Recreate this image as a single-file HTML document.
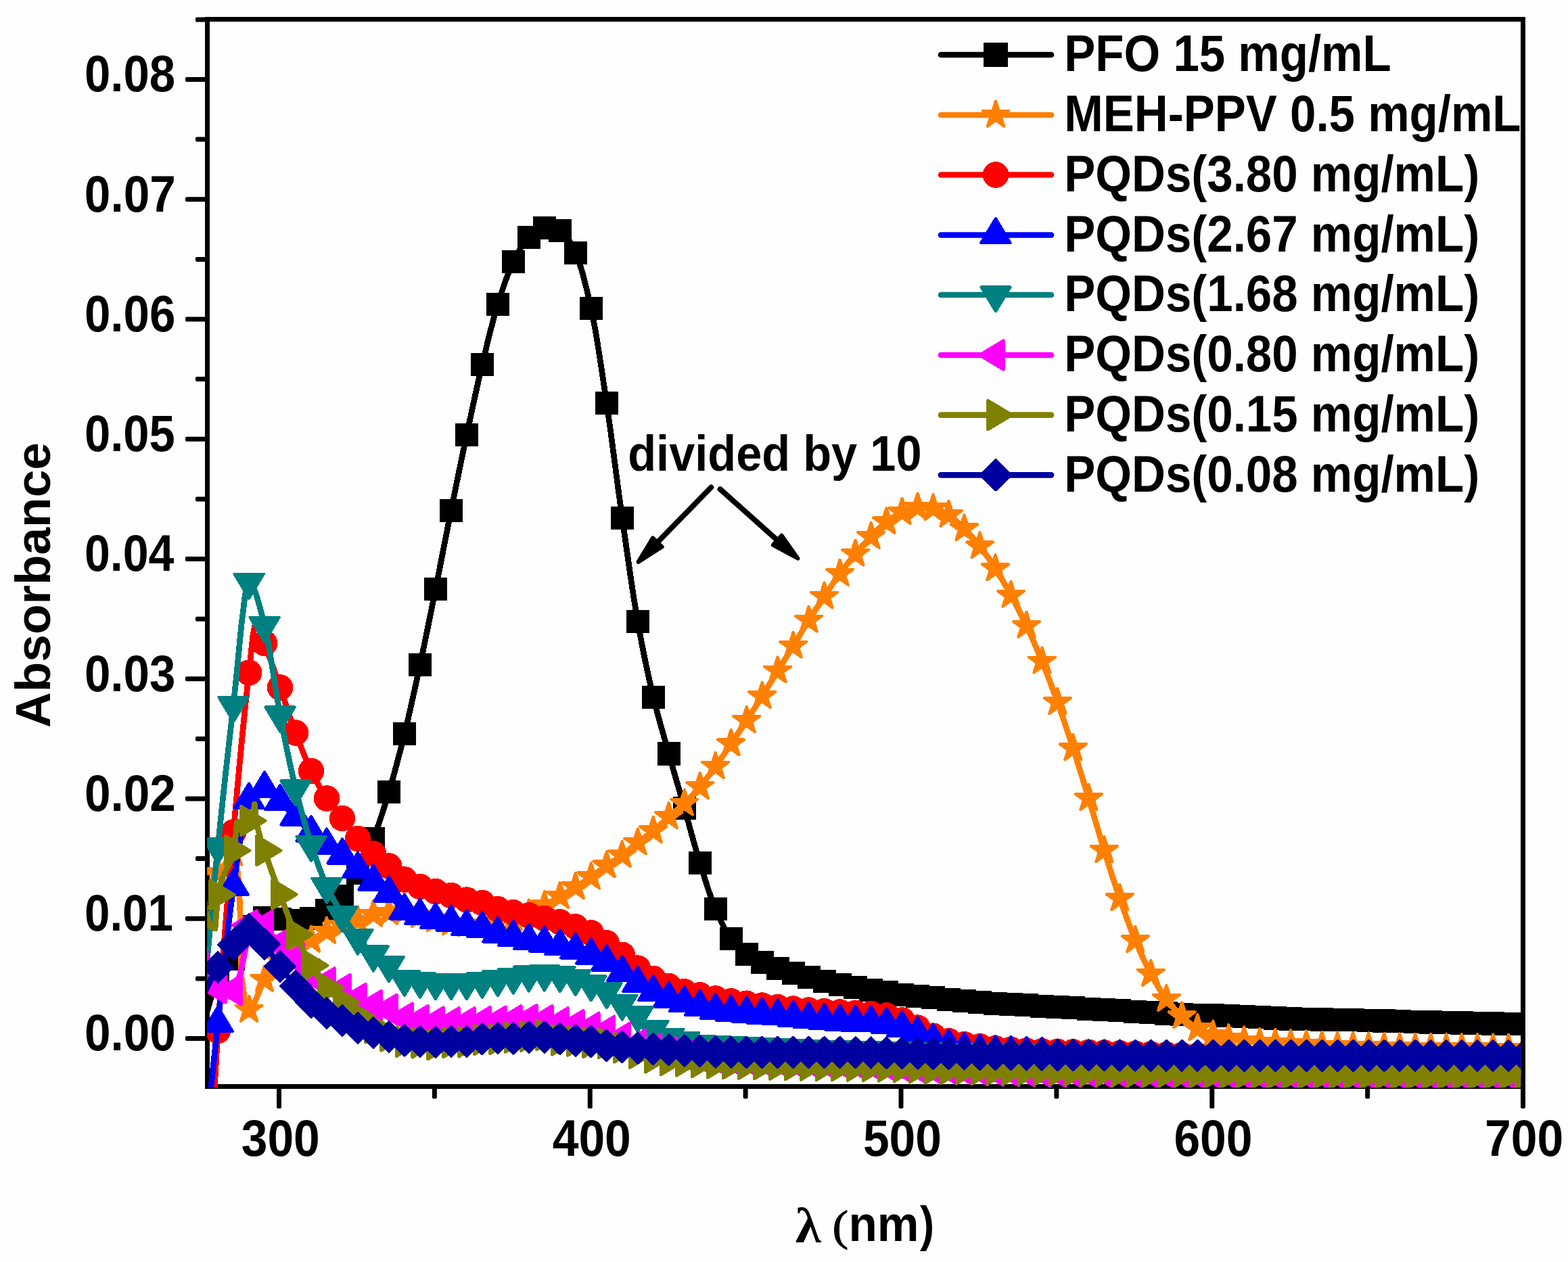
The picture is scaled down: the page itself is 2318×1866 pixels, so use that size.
<!DOCTYPE html>
<html lang="en"><head><meta charset="utf-8"><title>Absorbance spectra</title>
<style>html,body{margin:0;padding:0;background:#fff;}svg{display:block;}text{font-family:"Liberation Sans",Arial,Helvetica,sans-serif;font-weight:bold;fill:#000;}.sym{font-family:"Liberation Serif","Times New Roman",serif;font-weight:bold;}.symr{font-family:"Liberation Serif","Times New Roman",serif;font-weight:normal;}</style></head><body>
<svg width="2318" height="1866" viewBox="0 0 2318 1866">
<rect x="0" y="0" width="2318" height="1866" fill="#fefefe"/>
<defs><clipPath id="plot"><rect x="306.2" y="20" width="1941.9999999999998" height="1588.3"/></clipPath></defs>
<g id="axes" fill="#000" shape-rendering="crispEdges">
<rect x="303" y="24.9" width="7" height="1585.1"/>
<rect x="303" y="1603" width="1952" height="7"/>
<rect x="303" y="24.9" width="1952" height="7"/>
<rect x="2248" y="24.9" width="7" height="1585.1"/>
</g>
<g id="ticks" fill="#000">
<rect x="274" y="1532" width="32.5" height="7" rx="2" ry="2"/>
<rect x="274" y="1354.75" width="32.5" height="7" rx="2" ry="2"/>
<rect x="274" y="1177.5" width="32.5" height="7" rx="2" ry="2"/>
<rect x="274" y="1000.25" width="32.5" height="7" rx="2" ry="2"/>
<rect x="274" y="823" width="32.5" height="7" rx="2" ry="2"/>
<rect x="274" y="645.75" width="32.5" height="7" rx="2" ry="2"/>
<rect x="274" y="468.5" width="32.5" height="7" rx="2" ry="2"/>
<rect x="274" y="291.25" width="32.5" height="7" rx="2" ry="2"/>
<rect x="274" y="114" width="32.5" height="7" rx="2" ry="2"/>
<rect x="289" y="1443.38" width="17.5" height="7" rx="2" ry="2"/>
<rect x="289" y="1266.12" width="17.5" height="7" rx="2" ry="2"/>
<rect x="289" y="1088.88" width="17.5" height="7" rx="2" ry="2"/>
<rect x="289" y="911.63" width="17.5" height="7" rx="2" ry="2"/>
<rect x="289" y="734.38" width="17.5" height="7" rx="2" ry="2"/>
<rect x="289" y="557.12" width="17.5" height="7" rx="2" ry="2"/>
<rect x="289" y="379.88" width="17.5" height="7" rx="2" ry="2"/>
<rect x="289" y="202.62" width="17.5" height="7" rx="2" ry="2"/>
<rect x="289" y="25.38" width="17.5" height="7" rx="2" ry="2"/>
<rect x="409" y="1606.5" width="7" height="32.5" rx="2" ry="2"/>
<rect x="868.75" y="1606.5" width="7" height="32.5" rx="2" ry="2"/>
<rect x="1328.5" y="1606.5" width="7" height="32.5" rx="2" ry="2"/>
<rect x="1788.25" y="1606.5" width="7" height="32.5" rx="2" ry="2"/>
<rect x="2248" y="1606.5" width="7" height="32.5" rx="2" ry="2"/>
<rect x="638.88" y="1606.5" width="7" height="18" rx="2" ry="2"/>
<rect x="1098.62" y="1606.5" width="7" height="18" rx="2" ry="2"/>
<rect x="1558.38" y="1606.5" width="7" height="18" rx="2" ry="2"/>
<rect x="2018.12" y="1606.5" width="7" height="18" rx="2" ry="2"/>
</g>
<g id="series" clip-path="url(#plot)" shape-rendering="crispEdges">
<g id="s-black">
<polyline points="299.11,1522 304.86,1499.89 310.61,1480.04 316.35,1463.17 322.1,1450 327.85,1440.57 333.59,1433.26 339.34,1426.32 345.09,1418 350.83,1406.06 356.58,1391.76 362.33,1378.58 368.08,1370 373.82,1365.09 379.57,1360.94 385.32,1358.07 391.06,1357 396.81,1357.22 402.56,1357.75 408.3,1358.41 414.05,1359 419.8,1359.59 425.54,1360.25 431.29,1360.78 437.04,1361 442.78,1360.76 448.53,1360.1 454.28,1359.14 460.03,1358 465.77,1356.17 471.52,1353.31 477.27,1349.8 483.01,1346 488.76,1341.79 494.51,1336.84 500.25,1331.22 506,1325 511.75,1317.95 517.49,1309.85 523.24,1300.83 528.99,1291 534.73,1280.04 540.48,1267.73 546.23,1254.3 551.98,1240 557.72,1224.56 563.47,1207.74 569.22,1189.8 574.96,1171 580.71,1151.17 586.46,1130.09 592.2,1107.97 597.95,1085 603.7,1060.97 609.44,1035.74 615.19,1009.67 620.94,983.1 626.68,955.9 632.43,927.93 638.18,899.49 643.92,870.9 649.67,842 655.42,812.7 661.17,783.43 666.91,754.6 672.66,726.22 678.41,698.08 684.15,670.33 689.9,643.1 695.65,616.19 701.39,589.59 707.14,563.71 712.89,539 718.63,515.05 724.38,491.72 730.13,469.77 735.88,450 741.62,431.96 747.37,415.07 753.12,399.92 758.86,387.1 764.61,375.95 770.36,365.82 776.1,357.31 781.85,351 787.6,346.01 793.34,341.54 799.09,338.33 804.84,337.1 810.58,337.37 816.33,338.12 822.08,339.29 827.83,340.8 833.57,344.71 839.32,352.33 845.07,362.48 850.81,374 856.56,388.58 862.31,407.89 868.05,430.7 873.8,455.8 879.55,485.06 885.29,519.68 891.04,557.43 896.79,596.1 902.53,636.62 908.28,679.89 914.03,723.64 919.78,765.6 925.52,806.23 931.27,846.46 937.02,884.69 942.76,919.3 948.51,950.36 954.26,979.14 960,1005.82 965.75,1030.6 971.5,1053.29 977.24,1074.19 982.99,1094.25 988.74,1114.4 994.48,1134.72 1000.23,1154.76 1005.98,1174.72 1011.73,1194.8 1017.47,1215.38 1023.22,1236.25 1028.97,1256.69 1034.71,1276 1040.46,1294.53 1046.21,1312.57 1051.95,1329.33 1057.7,1344 1063.45,1356.96 1069.19,1368.88 1074.94,1379.36 1080.69,1388 1086.43,1395.17 1092.18,1401.45 1097.93,1406.81 1103.68,1411.2 1109.42,1414.73 1115.17,1417.69 1120.92,1420.34 1126.66,1422.9 1132.41,1425.46 1138.16,1427.91 1143.9,1430.2 1149.65,1432.3 1155.4,1434.2 1161.14,1435.94 1166.89,1437.59 1172.64,1439.2 1178.38,1440.77 1184.13,1442.27 1189.88,1443.74 1195.62,1445.2 1201.37,1446.65 1207.12,1448.09 1212.87,1449.5 1218.61,1450.9 1224.36,1452.32 1230.11,1453.74 1235.85,1455.1 1241.6,1456.3 1247.35,1457.32 1253.09,1458.24 1258.84,1459.11 1264.59,1460 1270.33,1460.92 1276.08,1461.84 1281.83,1462.77 1287.58,1463.7 1293.32,1464.66 1299.07,1465.63 1304.82,1466.59 1310.56,1467.5 1316.31,1468.36 1322.06,1469.18 1327.8,1469.97 1333.55,1470.7 1339.3,1471.39 1345.04,1472.05 1350.79,1472.66 1356.54,1473.2 1362.28,1473.65 1368.03,1474.03 1373.78,1474.42 1379.53,1474.9 1385.27,1475.61 1391.02,1476.5 1396.77,1477.39 1402.51,1478.1 1408.26,1478.59 1414.01,1479 1419.75,1479.38 1425.5,1479.8 1431.25,1480.28 1436.99,1480.79 1442.74,1481.31 1448.49,1481.8 1454.23,1482.28 1459.98,1482.76 1465.73,1483.21 1471.47,1483.6 1477.22,1483.93 1482.97,1484.21 1488.72,1484.49 1494.46,1484.8 1500.21,1485.15 1505.96,1485.54 1511.7,1485.93 1517.45,1486.3 1523.2,1486.66 1528.94,1487.01 1534.69,1487.36 1540.44,1487.7 1546.18,1488.04 1551.93,1488.38 1557.68,1488.71 1563.43,1489.05 1569.17,1489.38 1574.92,1489.71 1580.67,1490.04 1586.41,1490.36 1592.16,1490.69 1597.91,1491.02 1603.65,1491.35 1609.4,1491.67 1615.15,1492 1620.89,1492.33 1626.64,1492.67 1632.39,1493 1638.13,1493.34 1643.88,1493.68 1649.63,1494.03 1655.38,1494.38 1661.12,1494.74 1666.87,1495.1 1672.62,1495.46 1678.36,1495.81 1684.11,1496.17 1689.86,1496.52 1695.6,1496.87 1701.35,1497.22 1707.1,1497.56 1712.84,1497.89 1718.59,1498.22 1724.34,1498.54 1730.08,1498.85 1735.83,1499.14 1741.58,1499.43 1747.33,1499.7 1753.07,1499.96 1758.82,1500.21 1764.57,1500.44 1770.31,1500.67 1776.06,1500.89 1781.81,1501.1 1787.55,1501.31 1793.3,1501.52 1799.05,1501.72 1804.79,1501.92 1810.54,1502.11 1816.29,1502.31 1822.03,1502.52 1827.78,1502.72 1833.53,1502.93 1839.28,1503.15 1845.02,1503.37 1850.77,1503.6 1856.52,1503.85 1862.26,1504.1 1868.01,1504.38 1873.76,1504.71 1879.5,1505.05 1885.25,1505.4 1891,1505.73 1896.74,1506.04 1902.49,1506.3 1908.24,1506.5 1913.98,1506.65 1919.73,1506.79 1925.48,1506.91 1931.22,1507.02 1936.97,1507.12 1942.72,1507.22 1948.47,1507.31 1954.21,1507.4 1959.96,1507.49 1965.71,1507.59 1971.45,1507.69 1977.2,1507.8 1982.95,1507.92 1988.69,1508.05 1994.44,1508.18 2000.19,1508.31 2005.93,1508.45 2011.68,1508.59 2017.43,1508.73 2023.18,1508.88 2028.92,1509.03 2034.67,1509.18 2040.42,1509.33 2046.16,1509.49 2051.91,1509.65 2057.66,1509.81 2063.4,1509.97 2069.15,1510.13 2074.9,1510.29 2080.64,1510.45 2086.39,1510.61 2092.14,1510.77 2097.88,1510.93 2103.63,1511.09 2109.38,1511.25 2115.12,1511.41 2120.87,1511.56 2126.62,1511.72 2132.37,1511.87 2138.11,1512.01 2143.86,1512.16 2149.61,1512.3 2155.35,1512.44 2161.1,1512.57 2166.85,1512.71 2172.59,1512.83 2178.34,1512.95 2184.09,1513.07 2189.83,1513.18 2195.58,1513.29 2201.33,1513.39 2207.08,1513.49 2212.82,1513.57 2218.57,1513.66 2224.32,1513.73 2230.06,1513.8 2235.81,1513.86 2241.56,1513.91 2247.3,1513.96 2253.05,1514" fill="none" stroke="#000000" stroke-width="8.7" stroke-linejoin="round"/>
<path d="M305 1432.9h34.2v34.2h-34.2zM327.99 1400.9h34.2v34.2h-34.2zM350.98 1352.9h34.2v34.2h-34.2zM373.96 1339.9h34.2v34.2h-34.2zM396.95 1341.9h34.2v34.2h-34.2zM419.94 1343.9h34.2v34.2h-34.2zM442.93 1340.9h34.2v34.2h-34.2zM465.91 1328.9h34.2v34.2h-34.2zM488.9 1307.9h34.2v34.2h-34.2zM511.89 1273.9h34.2v34.2h-34.2zM534.88 1222.9h34.2v34.2h-34.2zM557.86 1153.9h34.2v34.2h-34.2zM580.85 1067.9h34.2v34.2h-34.2zM603.84 966h34.2v34.2h-34.2zM626.82 853.8h34.2v34.2h-34.2zM649.81 737.5h34.2v34.2h-34.2zM672.8 626h34.2v34.2h-34.2zM695.79 521.9h34.2v34.2h-34.2zM718.77 432.9h34.2v34.2h-34.2zM741.76 370h34.2v34.2h-34.2zM764.75 333.9h34.2v34.2h-34.2zM787.74 320h34.2v34.2h-34.2zM810.73 323.7h34.2v34.2h-34.2zM833.71 356.9h34.2v34.2h-34.2zM856.7 438.7h34.2v34.2h-34.2zM879.69 579h34.2v34.2h-34.2zM902.68 748.5h34.2v34.2h-34.2zM925.66 902.2h34.2v34.2h-34.2zM948.65 1013.5h34.2v34.2h-34.2zM971.64 1097.3h34.2v34.2h-34.2zM994.62 1177.7h34.2v34.2h-34.2zM1017.61 1258.9h34.2v34.2h-34.2zM1040.6 1326.9h34.2v34.2h-34.2zM1063.59 1370.9h34.2v34.2h-34.2zM1086.58 1394.1h34.2v34.2h-34.2zM1109.56 1405.8h34.2v34.2h-34.2zM1132.55 1415.2h34.2v34.2h-34.2zM1155.54 1422.1h34.2v34.2h-34.2zM1178.53 1428.1h34.2v34.2h-34.2zM1201.51 1433.8h34.2v34.2h-34.2zM1224.5 1439.2h34.2v34.2h-34.2zM1247.49 1442.9h34.2v34.2h-34.2zM1270.48 1446.6h34.2v34.2h-34.2zM1293.46 1450.4h34.2v34.2h-34.2zM1316.45 1453.6h34.2v34.2h-34.2zM1339.44 1456.1h34.2v34.2h-34.2zM1362.43 1457.8h34.2v34.2h-34.2zM1385.41 1461h34.2v34.2h-34.2zM1408.4 1462.7h34.2v34.2h-34.2zM1431.39 1464.7h34.2v34.2h-34.2zM1454.38 1466.5h34.2v34.2h-34.2zM1477.36 1467.7h34.2v34.2h-34.2zM1500.35 1469.2h34.2v34.2h-34.2zM1523.34 1470.6h34.2v34.2h-34.2zM1546.33 1471.95h34.2v34.2h-34.2zM1569.31 1473.26h34.2v34.2h-34.2zM1592.3 1474.57h34.2v34.2h-34.2zM1615.29 1475.9h34.2v34.2h-34.2zM1638.28 1477.28h34.2v34.2h-34.2zM1661.26 1478.71h34.2v34.2h-34.2zM1684.25 1480.12h34.2v34.2h-34.2zM1707.24 1481.44h34.2v34.2h-34.2zM1730.23 1482.6h34.2v34.2h-34.2zM1753.21 1483.57h34.2v34.2h-34.2zM1776.2 1484.42h34.2v34.2h-34.2zM1799.19 1485.21h34.2v34.2h-34.2zM1822.18 1486.05h34.2v34.2h-34.2zM1845.16 1487h34.2v34.2h-34.2zM1868.15 1488.3h34.2v34.2h-34.2zM1891.14 1489.4h34.2v34.2h-34.2zM1914.12 1489.92h34.2v34.2h-34.2zM1937.11 1490.3h34.2v34.2h-34.2zM1960.1 1490.7h34.2v34.2h-34.2zM1983.09 1491.21h34.2v34.2h-34.2zM2006.08 1491.78h34.2v34.2h-34.2zM2029.06 1492.39h34.2v34.2h-34.2zM2052.05 1493.03h34.2v34.2h-34.2zM2075.04 1493.67h34.2v34.2h-34.2zM2098.03 1494.31h34.2v34.2h-34.2zM2121.01 1494.91h34.2v34.2h-34.2zM2144 1495.47h34.2v34.2h-34.2zM2166.99 1495.97h34.2v34.2h-34.2zM2189.98 1496.39h34.2v34.2h-34.2zM2212.96 1496.7h34.2v34.2h-34.2zM2235.95 1496.9h34.2v34.2h-34.2z" fill="#000000"/>
</g>
<g id="s-orange">
<polyline points="299.11,1290 304.86,1290 310.61,1290 316.35,1290 322.1,1290 327.85,1285.62 333.59,1276 339.34,1266.38 345.09,1262 350.83,1286.15 351.98,1295 354.74,1340 356.58,1441 362.33,1482.1 368.08,1493 373.82,1487.68 379.57,1475.09 385.32,1460.34 391.06,1448.5 396.81,1440.16 402.56,1432.57 408.3,1425.82 414.05,1420 419.8,1415.04 425.54,1410.68 431.29,1406.73 437.04,1403 442.78,1399.51 448.53,1396.28 454.28,1393.17 460.03,1390 465.77,1386.64 471.52,1383.2 477.27,1379.92 483.01,1377 488.76,1374.47 494.51,1372.15 500.25,1370.02 506,1368 511.75,1366.17 517.49,1364.5 523.24,1362.83 528.99,1361 534.73,1358.7 540.48,1356.08 546.23,1353.67 551.98,1352 557.72,1350.99 563.47,1350.19 569.22,1349.54 574.96,1349 580.71,1348.48 586.46,1348 592.2,1347.64 597.95,1347.5 603.7,1348.16 609.44,1349.78 615.19,1351.78 620.94,1353.6 626.68,1355.17 632.43,1356.78 638.18,1358.34 643.92,1359.8 649.67,1361.23 655.42,1362.63 661.17,1363.88 666.91,1364.8 672.66,1365.51 678.41,1366.16 684.15,1366.62 689.9,1366.8 695.65,1366.73 701.39,1366.56 707.14,1366.3 712.89,1366 718.63,1365.53 724.38,1364.81 730.13,1363.94 735.88,1363 741.62,1361.96 747.37,1360.76 753.12,1359.43 758.86,1358 764.61,1356.5 770.36,1354.88 776.1,1353.07 781.85,1351 787.6,1348.45 793.34,1345.4 799.09,1342.1 804.84,1338.8 810.58,1335.51 816.33,1332.1 822.08,1328.64 827.83,1325.2 833.57,1321.81 839.32,1318.42 845.07,1315 850.81,1311.5 856.56,1307.93 862.31,1304.29 868.05,1300.56 873.8,1296.7 879.55,1292.59 885.29,1288.28 891.04,1283.96 896.79,1279.8 902.53,1275.94 908.28,1272.24 914.03,1268.5 919.78,1264.5 925.52,1260.08 931.27,1255.35 937.02,1250.55 942.76,1245.9 948.51,1241.54 954.26,1237.33 960,1233.05 965.75,1228.5 971.5,1223.49 977.24,1218.15 982.99,1212.73 988.74,1207.5 994.48,1202.63 1000.23,1197.95 1005.98,1193.16 1011.73,1188 1017.47,1182.35 1023.22,1176.31 1028.97,1169.95 1034.71,1163.3 1040.46,1156.29 1046.21,1148.87 1051.95,1141.17 1057.7,1133.3 1063.45,1125.21 1069.19,1116.84 1074.94,1108.33 1080.69,1099.8 1086.43,1091.28 1092.18,1082.7 1097.93,1074.05 1103.68,1065.3 1109.42,1056.46 1115.17,1047.54 1120.92,1038.52 1126.66,1029.4 1132.41,1020.12 1138.16,1010.71 1143.9,1001.26 1149.65,991.9 1155.4,982.68 1161.14,973.53 1166.89,964.37 1172.64,955.1 1178.38,945.62 1184.13,935.99 1189.88,926.42 1195.62,917.1 1201.37,908.1 1207.12,899.29 1212.87,890.62 1218.61,882 1224.36,873.34 1230.11,864.7 1235.85,856.26 1241.6,848.2 1247.35,840.53 1253.09,833.15 1258.84,826.02 1264.59,819.1 1270.33,812.35 1276.08,805.77 1281.83,799.44 1287.58,793.4 1293.32,787.53 1299.07,781.83 1304.82,776.5 1310.56,771.8 1316.31,767.57 1322.06,763.65 1327.8,760.2 1333.55,757.4 1339.3,754.9 1345.04,752.54 1350.79,750.79 1356.54,750.1 1362.28,750.21 1368.03,750.53 1373.78,751 1379.53,751.6 1385.27,752.86 1391.02,755.13 1396.77,758.06 1402.51,761.3 1408.26,765.26 1414.01,770.28 1419.75,775.91 1425.5,781.7 1431.25,787.63 1436.99,793.97 1442.74,800.7 1448.49,807.8 1454.23,815.35 1459.98,823.4 1465.73,831.88 1471.47,840.7 1477.22,849.95 1482.97,859.68 1488.72,869.79 1494.46,880.2 1500.21,890.87 1505.96,901.89 1511.7,913.31 1517.45,925.2 1523.2,937.62 1528.94,950.58 1534.69,964.02 1540.44,977.9 1546.18,992.27 1551.93,1007.18 1557.68,1022.57 1563.43,1038.4 1569.17,1054.75 1574.92,1071.65 1580.67,1088.97 1586.41,1106.6 1592.16,1124.59 1597.91,1143 1603.65,1161.68 1609.4,1180.5 1615.15,1199.65 1620.89,1219.13 1626.64,1238.52 1632.39,1257.4 1638.13,1275.82 1643.88,1293.96 1649.63,1311.63 1655.38,1328.6 1661.12,1345 1666.87,1360.94 1672.62,1376.19 1678.36,1390.5 1684.11,1404 1689.86,1416.88 1695.6,1428.96 1701.35,1440.1 1707.1,1450.45 1712.84,1460.18 1718.59,1469.14 1724.34,1477.2 1730.08,1484.44 1735.83,1491.08 1741.58,1497.16 1747.33,1502.7 1753.07,1507.93 1758.82,1512.87 1764.57,1517.25 1770.31,1520.8 1776.06,1523.62 1781.81,1526.05 1787.55,1528.14 1793.3,1530 1799.05,1531.69 1804.79,1533.22 1810.54,1534.56 1816.29,1535.7 1822.03,1536.64 1827.78,1537.46 1833.53,1538.2 1839.28,1538.9 1845.02,1539.62 1850.77,1540.32 1856.52,1540.94 1862.26,1541.4 1868.01,1541.7 1873.76,1541.93 1879.5,1542.15 1885.25,1542.4 1891,1542.73 1896.74,1543.1 1902.49,1543.47 1908.24,1543.8 1913.98,1544.06 1919.73,1544.3 1925.48,1544.53 1931.22,1544.8 1936.97,1545.17 1942.72,1545.61 1948.47,1546.02 1954.21,1546.3 1959.96,1546.46 1965.71,1546.58 1971.45,1546.69 1977.2,1546.8 1982.95,1546.92 1988.69,1547.04 1994.44,1547.17 2000.19,1547.29 2005.93,1547.42 2011.68,1547.55 2017.43,1547.67 2023.18,1547.8 2028.92,1547.92 2034.67,1548.04 2040.42,1548.16 2046.16,1548.28 2051.91,1548.39 2057.66,1548.49 2063.4,1548.6 2069.15,1548.69 2074.9,1548.78 2080.64,1548.86 2086.39,1548.93 2092.14,1549 2097.88,1549.06 2103.63,1549.12 2109.38,1549.18 2115.12,1549.24 2120.87,1549.3 2126.62,1549.36 2132.37,1549.42 2138.11,1549.48 2143.86,1549.53 2149.61,1549.58 2155.35,1549.64 2161.1,1549.68 2166.85,1549.73 2172.59,1549.77 2178.34,1549.81 2184.09,1549.85 2189.83,1549.88 2195.58,1549.91 2201.33,1549.94 2207.08,1549.96 2212.82,1549.98 2218.57,1549.99 2224.32,1550 2230.06,1550 2235.81,1550 2241.56,1550 2247.3,1550 2253.05,1550" fill="none" stroke="#FF8000" stroke-width="8.7" stroke-linejoin="round"/>
<path d="M322.1 1269.6L326.68 1283.7L341.5 1283.7L329.51 1292.41L334.09 1306.5L322.1 1297.79L310.11 1306.5L314.69 1292.41L302.7 1283.7L317.52 1283.7zM345.09 1241.6L349.67 1255.7L364.49 1255.7L352.5 1264.41L357.08 1278.5L345.09 1269.79L333.1 1278.5L337.68 1264.41L325.69 1255.7L340.51 1255.7zM368.08 1472.6L372.66 1486.7L387.48 1486.7L375.49 1495.41L380.07 1509.5L368.08 1500.79L356.08 1509.5L360.66 1495.41L348.67 1486.7L363.49 1486.7zM391.06 1428.1L395.64 1442.2L410.46 1442.2L398.47 1450.91L403.05 1465L391.06 1456.29L379.07 1465L383.65 1450.91L371.66 1442.2L386.48 1442.2zM414.05 1399.6L418.63 1413.7L433.45 1413.7L421.46 1422.41L426.04 1436.5L414.05 1427.79L402.06 1436.5L406.64 1422.41L394.65 1413.7L409.47 1413.7zM437.04 1382.6L441.62 1396.7L456.44 1396.7L444.45 1405.41L449.03 1419.5L437.04 1410.79L425.05 1419.5L429.63 1405.41L417.64 1396.7L432.46 1396.7zM460.03 1369.6L464.61 1383.7L479.43 1383.7L467.44 1392.41L472.02 1406.5L460.03 1397.79L448.03 1406.5L452.61 1392.41L440.62 1383.7L455.44 1383.7zM483.01 1356.6L487.59 1370.7L502.41 1370.7L490.42 1379.41L495 1393.5L483.01 1384.79L471.02 1393.5L475.6 1379.41L463.61 1370.7L478.43 1370.7zM506 1347.6L510.58 1361.7L525.4 1361.7L513.41 1370.41L517.99 1384.5L506 1375.79L494.01 1384.5L498.59 1370.41L486.6 1361.7L501.42 1361.7zM528.99 1340.6L533.57 1354.7L548.39 1354.7L536.4 1363.41L540.98 1377.5L528.99 1368.79L517 1377.5L521.58 1363.41L509.59 1354.7L524.41 1354.7zM551.98 1331.6L556.56 1345.7L571.38 1345.7L559.39 1354.41L563.97 1368.5L551.98 1359.79L539.98 1368.5L544.56 1354.41L532.57 1345.7L547.39 1345.7zM574.96 1328.6L579.54 1342.7L594.36 1342.7L582.37 1351.41L586.95 1365.5L574.96 1356.79L562.97 1365.5L567.55 1351.41L555.56 1342.7L570.38 1342.7zM597.95 1327.1L602.53 1341.2L617.35 1341.2L605.36 1349.91L609.94 1364L597.95 1355.29L585.96 1364L590.54 1349.91L578.55 1341.2L593.37 1341.2zM620.94 1333.2L625.52 1347.3L640.34 1347.3L628.35 1356.01L632.93 1370.1L620.94 1361.39L608.95 1370.1L613.53 1356.01L601.54 1347.3L616.36 1347.3zM643.92 1339.4L648.51 1353.5L663.33 1353.5L651.34 1362.21L655.92 1376.3L643.92 1367.59L631.93 1376.3L636.51 1362.21L624.52 1353.5L639.34 1353.5zM666.91 1344.4L671.49 1358.5L686.31 1358.5L674.32 1367.21L678.9 1381.3L666.91 1372.59L654.92 1381.3L659.5 1367.21L647.51 1358.5L662.33 1358.5zM689.9 1346.4L694.48 1360.5L709.3 1360.5L697.31 1369.21L701.89 1383.3L689.9 1374.59L677.91 1383.3L682.49 1369.21L670.5 1360.5L685.32 1360.5zM712.89 1345.6L717.47 1359.7L732.29 1359.7L720.3 1368.41L724.88 1382.5L712.89 1373.79L700.9 1382.5L705.48 1368.41L693.49 1359.7L708.31 1359.7zM735.88 1342.6L740.46 1356.7L755.28 1356.7L743.29 1365.41L747.87 1379.5L735.88 1370.79L723.88 1379.5L728.46 1365.41L716.47 1356.7L731.29 1356.7zM758.86 1337.6L763.44 1351.7L778.26 1351.7L766.27 1360.41L770.85 1374.5L758.86 1365.79L746.87 1374.5L751.45 1360.41L739.46 1351.7L754.28 1351.7zM781.85 1330.6L786.43 1344.7L801.25 1344.7L789.26 1353.41L793.84 1367.5L781.85 1358.79L769.86 1367.5L774.44 1353.41L762.45 1344.7L777.27 1344.7zM804.84 1318.4L809.42 1332.5L824.24 1332.5L812.25 1341.21L816.83 1355.3L804.84 1346.59L792.85 1355.3L797.43 1341.21L785.44 1332.5L800.26 1332.5zM827.83 1304.8L832.41 1318.9L847.23 1318.9L835.24 1327.61L839.82 1341.7L827.83 1332.99L815.83 1341.7L820.41 1327.61L808.42 1318.9L823.24 1318.9zM850.81 1291.1L855.39 1305.2L870.21 1305.2L858.22 1313.91L862.8 1328L850.81 1319.29L838.82 1328L843.4 1313.91L831.41 1305.2L846.23 1305.2zM873.8 1276.3L878.38 1290.4L893.2 1290.4L881.21 1299.11L885.79 1313.2L873.8 1304.49L861.81 1313.2L866.39 1299.11L854.4 1290.4L869.22 1290.4zM896.79 1259.4L901.37 1273.5L916.19 1273.5L904.2 1282.21L908.78 1296.3L896.79 1287.59L884.8 1296.3L889.38 1282.21L877.39 1273.5L892.21 1273.5zM919.78 1244.1L924.36 1258.2L939.18 1258.2L927.19 1266.91L931.77 1281L919.78 1272.29L907.78 1281L912.36 1266.91L900.37 1258.2L915.19 1258.2zM942.76 1225.5L947.34 1239.6L962.16 1239.6L950.17 1248.31L954.75 1262.4L942.76 1253.69L930.77 1262.4L935.35 1248.31L923.36 1239.6L938.18 1239.6zM965.75 1208.1L970.33 1222.2L985.15 1222.2L973.16 1230.91L977.74 1245L965.75 1236.29L953.76 1245L958.34 1230.91L946.35 1222.2L961.17 1222.2zM988.74 1187.1L993.32 1201.2L1008.14 1201.2L996.15 1209.91L1000.73 1224L988.74 1215.29L976.75 1224L981.33 1209.91L969.34 1201.2L984.16 1201.2zM1011.73 1167.6L1016.31 1181.7L1031.13 1181.7L1019.14 1190.41L1023.72 1204.5L1011.73 1195.79L999.73 1204.5L1004.31 1190.41L992.32 1181.7L1007.14 1181.7zM1034.71 1142.9L1039.29 1157L1054.11 1157L1042.12 1165.71L1046.7 1179.8L1034.71 1171.09L1022.72 1179.8L1027.3 1165.71L1015.31 1157L1030.13 1157zM1057.7 1112.9L1062.28 1127L1077.1 1127L1065.11 1135.71L1069.69 1149.8L1057.7 1141.09L1045.71 1149.8L1050.29 1135.71L1038.3 1127L1053.12 1127zM1080.69 1079.4L1085.27 1093.5L1100.09 1093.5L1088.1 1102.21L1092.68 1116.3L1080.69 1107.59L1068.7 1116.3L1073.28 1102.21L1061.29 1093.5L1076.11 1093.5zM1103.68 1044.9L1108.26 1059L1123.08 1059L1111.09 1067.71L1115.67 1081.8L1103.68 1073.09L1091.68 1081.8L1096.26 1067.71L1084.27 1059L1099.09 1059zM1126.66 1009L1131.24 1023.1L1146.06 1023.1L1134.07 1031.81L1138.65 1045.9L1126.66 1037.19L1114.67 1045.9L1119.25 1031.81L1107.26 1023.1L1122.08 1023.1zM1149.65 971.5L1154.23 985.6L1169.05 985.6L1157.06 994.31L1161.64 1008.4L1149.65 999.69L1137.66 1008.4L1142.24 994.31L1130.25 985.6L1145.07 985.6zM1172.64 934.7L1177.22 948.8L1192.04 948.8L1180.05 957.51L1184.63 971.6L1172.64 962.89L1160.65 971.6L1165.23 957.51L1153.24 948.8L1168.06 948.8zM1195.62 896.7L1200.21 910.8L1215.03 910.8L1203.04 919.51L1207.62 933.6L1195.62 924.89L1183.63 933.6L1188.21 919.51L1176.22 910.8L1191.04 910.8zM1218.61 861.6L1223.19 875.7L1238.01 875.7L1226.02 884.41L1230.6 898.5L1218.61 889.79L1206.62 898.5L1211.2 884.41L1199.21 875.7L1214.03 875.7zM1241.6 827.8L1246.18 841.9L1261 841.9L1249.01 850.61L1253.59 864.7L1241.6 855.99L1229.61 864.7L1234.19 850.61L1222.2 841.9L1237.02 841.9zM1264.59 798.7L1269.17 812.8L1283.99 812.8L1272 821.51L1276.58 835.6L1264.59 826.89L1252.6 835.6L1257.18 821.51L1245.19 812.8L1260.01 812.8zM1287.58 773L1292.16 787.1L1306.98 787.1L1294.99 795.81L1299.57 809.9L1287.58 801.19L1275.58 809.9L1280.16 795.81L1268.17 787.1L1282.99 787.1zM1310.56 751.4L1315.14 765.5L1329.96 765.5L1317.97 774.21L1322.55 788.3L1310.56 779.59L1298.57 788.3L1303.15 774.21L1291.16 765.5L1305.98 765.5zM1333.55 737L1338.13 751.1L1352.95 751.1L1340.96 759.81L1345.54 773.9L1333.55 765.19L1321.56 773.9L1326.14 759.81L1314.15 751.1L1328.97 751.1zM1356.54 729.7L1361.12 743.8L1375.94 743.8L1363.95 752.51L1368.53 766.6L1356.54 757.89L1344.55 766.6L1349.13 752.51L1337.14 743.8L1351.96 743.8zM1379.53 731.2L1384.11 745.3L1398.93 745.3L1386.94 754.01L1391.52 768.1L1379.53 759.39L1367.53 768.1L1372.11 754.01L1360.12 745.3L1374.94 745.3zM1402.51 740.9L1407.09 755L1421.91 755L1409.92 763.71L1414.5 777.8L1402.51 769.09L1390.52 777.8L1395.1 763.71L1383.11 755L1397.93 755zM1425.5 761.3L1430.08 775.4L1444.9 775.4L1432.91 784.11L1437.49 798.2L1425.5 789.49L1413.51 798.2L1418.09 784.11L1406.1 775.4L1420.92 775.4zM1448.49 787.4L1453.07 801.5L1467.89 801.5L1455.9 810.21L1460.48 824.3L1448.49 815.59L1436.5 824.3L1441.08 810.21L1429.09 801.5L1443.91 801.5zM1471.47 820.3L1476.06 834.4L1490.88 834.4L1478.89 843.11L1483.47 857.2L1471.47 848.49L1459.48 857.2L1464.06 843.11L1452.07 834.4L1466.89 834.4zM1494.46 859.8L1499.04 873.9L1513.86 873.9L1501.87 882.61L1506.45 896.7L1494.46 887.99L1482.47 896.7L1487.05 882.61L1475.06 873.9L1489.88 873.9zM1517.45 904.8L1522.03 918.9L1536.85 918.9L1524.86 927.61L1529.44 941.7L1517.45 932.99L1505.46 941.7L1510.04 927.61L1498.05 918.9L1512.87 918.9zM1540.44 957.5L1545.02 971.6L1559.84 971.6L1547.85 980.31L1552.43 994.4L1540.44 985.69L1528.45 994.4L1533.03 980.31L1521.04 971.6L1535.86 971.6zM1563.43 1018L1568.01 1032.1L1582.83 1032.1L1570.84 1040.81L1575.42 1054.9L1563.43 1046.19L1551.43 1054.9L1556.01 1040.81L1544.02 1032.1L1558.84 1032.1zM1586.41 1086.2L1590.99 1100.3L1605.81 1100.3L1593.82 1109.01L1598.4 1123.1L1586.41 1114.39L1574.42 1123.1L1579 1109.01L1567.01 1100.3L1581.83 1100.3zM1609.4 1160.1L1613.98 1174.2L1628.8 1174.2L1616.81 1182.91L1621.39 1197L1609.4 1188.29L1597.41 1197L1601.99 1182.91L1590 1174.2L1604.82 1174.2zM1632.39 1237L1636.97 1251.1L1651.79 1251.1L1639.8 1259.81L1644.38 1273.9L1632.39 1265.19L1620.4 1273.9L1624.98 1259.81L1612.99 1251.1L1627.81 1251.1zM1655.38 1308.2L1659.96 1322.3L1674.78 1322.3L1662.79 1331.01L1667.37 1345.1L1655.38 1336.39L1643.38 1345.1L1647.96 1331.01L1635.97 1322.3L1650.79 1322.3zM1678.36 1370.1L1682.94 1384.2L1697.76 1384.2L1685.77 1392.91L1690.35 1407L1678.36 1398.29L1666.37 1407L1670.95 1392.91L1658.96 1384.2L1673.78 1384.2zM1701.35 1419.7L1705.93 1433.8L1720.75 1433.8L1708.76 1442.51L1713.34 1456.6L1701.35 1447.89L1689.36 1456.6L1693.94 1442.51L1681.95 1433.8L1696.77 1433.8zM1724.34 1456.8L1728.92 1470.9L1743.74 1470.9L1731.75 1479.61L1736.33 1493.7L1724.34 1484.99L1712.35 1493.7L1716.93 1479.61L1704.94 1470.9L1719.76 1470.9zM1747.33 1482.3L1751.91 1496.4L1766.73 1496.4L1754.74 1505.11L1759.32 1519.2L1747.33 1510.49L1735.33 1519.2L1739.91 1505.11L1727.92 1496.4L1742.74 1496.4zM1770.31 1500.4L1774.89 1514.5L1789.71 1514.5L1777.72 1523.21L1782.3 1537.3L1770.31 1528.59L1758.32 1537.3L1762.9 1523.21L1750.91 1514.5L1765.73 1514.5zM1793.3 1509.6L1797.88 1523.7L1812.7 1523.7L1800.71 1532.41L1805.29 1546.5L1793.3 1537.79L1781.31 1546.5L1785.89 1532.41L1773.9 1523.7L1788.72 1523.7zM1816.29 1515.3L1820.87 1529.4L1835.69 1529.4L1823.7 1538.11L1828.28 1552.2L1816.29 1543.49L1804.3 1552.2L1808.88 1538.11L1796.89 1529.4L1811.71 1529.4zM1839.28 1518.5L1843.86 1532.6L1858.68 1532.6L1846.69 1541.31L1851.27 1555.4L1839.28 1546.69L1827.28 1555.4L1831.86 1541.31L1819.87 1532.6L1834.69 1532.6zM1862.26 1521L1866.84 1535.1L1881.66 1535.1L1869.67 1543.81L1874.25 1557.9L1862.26 1549.19L1850.27 1557.9L1854.85 1543.81L1842.86 1535.1L1857.68 1535.1zM1885.25 1522L1889.83 1536.1L1904.65 1536.1L1892.66 1544.81L1897.24 1558.9L1885.25 1550.19L1873.26 1558.9L1877.84 1544.81L1865.85 1536.1L1880.67 1536.1zM1908.24 1523.4L1912.82 1537.5L1927.64 1537.5L1915.65 1546.21L1920.23 1560.3L1908.24 1551.59L1896.25 1560.3L1900.83 1546.21L1888.84 1537.5L1903.66 1537.5zM1931.22 1524.4L1935.81 1538.5L1950.63 1538.5L1938.64 1547.21L1943.22 1561.3L1931.22 1552.59L1919.23 1561.3L1923.81 1547.21L1911.82 1538.5L1926.64 1538.5zM1954.21 1525.9L1958.79 1540L1973.61 1540L1961.62 1548.71L1966.2 1562.8L1954.21 1554.09L1942.22 1562.8L1946.8 1548.71L1934.81 1540L1949.63 1540zM1977.2 1526.4L1981.78 1540.5L1996.6 1540.5L1984.61 1549.21L1989.19 1563.3L1977.2 1554.59L1965.21 1563.3L1969.79 1549.21L1957.8 1540.5L1972.62 1540.5zM2000.19 1526.89L2004.77 1540.99L2019.59 1540.99L2007.6 1549.7L2012.18 1563.8L2000.19 1555.09L1988.2 1563.8L1992.78 1549.7L1980.79 1540.99L1995.61 1540.99zM2023.18 1527.4L2027.76 1541.49L2042.58 1541.49L2030.59 1550.21L2035.17 1564.3L2023.18 1555.59L2011.18 1564.3L2015.76 1550.21L2003.77 1541.49L2018.59 1541.49zM2046.16 1527.88L2050.74 1541.97L2065.56 1541.97L2053.57 1550.69L2058.15 1564.78L2046.16 1556.07L2034.17 1564.78L2038.75 1550.69L2026.76 1541.97L2041.58 1541.97zM2069.15 1528.29L2073.73 1542.39L2088.55 1542.39L2076.56 1551.1L2081.14 1565.19L2069.15 1556.48L2057.16 1565.19L2061.74 1551.1L2049.75 1542.39L2064.57 1542.39zM2092.14 1528.6L2096.72 1542.7L2111.54 1542.7L2099.55 1551.41L2104.13 1565.5L2092.14 1556.79L2080.15 1565.5L2084.73 1551.41L2072.74 1542.7L2087.56 1542.7zM2115.12 1528.84L2119.71 1542.94L2134.53 1542.94L2122.54 1551.65L2127.12 1565.75L2115.12 1557.04L2103.13 1565.75L2107.71 1551.65L2095.72 1542.94L2110.54 1542.94zM2138.11 1529.08L2142.69 1543.17L2157.51 1543.17L2145.52 1551.89L2150.1 1565.98L2138.11 1557.27L2126.12 1565.98L2130.7 1551.89L2118.71 1543.17L2133.53 1543.17zM2161.1 1529.28L2165.68 1543.38L2180.5 1543.38L2168.51 1552.09L2173.09 1566.19L2161.1 1557.48L2149.11 1566.19L2153.69 1552.09L2141.7 1543.38L2156.52 1543.38zM2184.09 1529.45L2188.67 1543.55L2203.49 1543.55L2191.5 1552.26L2196.08 1566.35L2184.09 1557.64L2172.1 1566.35L2176.68 1552.26L2164.69 1543.55L2179.51 1543.55zM2207.08 1529.56L2211.66 1543.66L2226.48 1543.66L2214.49 1552.37L2219.07 1566.46L2207.08 1557.75L2195.08 1566.46L2199.66 1552.37L2187.67 1543.66L2202.49 1543.66zM2230.06 1529.6L2234.64 1543.7L2249.46 1543.7L2237.47 1552.41L2242.05 1566.5L2230.06 1557.79L2218.07 1566.5L2222.65 1552.41L2210.66 1543.7L2225.48 1543.7zM2253.05 1529.6L2257.63 1543.7L2272.45 1543.7L2260.46 1552.41L2265.04 1566.5L2253.05 1557.79L2241.06 1566.5L2245.64 1552.41L2233.65 1543.7L2248.47 1543.7z" fill="#FF8000" stroke="#FF8000" stroke-width="4.2" stroke-linejoin="round"/>
</g>
<g id="s-red">
<polyline points="299.11,2000 304.86,1862.88 310.61,1736.48 316.35,1622.85 322.1,1524 327.85,1439.34 333.59,1364.56 339.34,1296.12 345.09,1230.5 350.83,1166.02 356.58,1104.28 362.33,1046.68 368.08,994.6 373.82,939.71 378.42,917 379.57,917.53 385.32,931.59 391.06,951 396.81,967.05 402.56,983.4 408.3,999.92 414.05,1016.5 419.8,1033.41 425.54,1050.62 431.29,1067.52 437.04,1083.5 442.78,1098.74 448.53,1113.52 454.28,1127.41 460.03,1140 465.77,1151.36 471.52,1161.88 477.27,1171.58 483.01,1180.5 488.76,1188.52 494.51,1195.8 500.25,1202.81 506,1210 511.75,1217.67 517.49,1225.51 523.24,1233.1 528.99,1240 534.73,1246.17 540.48,1251.9 546.23,1257.29 551.98,1262.4 557.72,1267.15 563.47,1271.58 569.22,1275.94 574.96,1280.5 580.71,1285.65 586.46,1291.15 592.2,1296.33 597.95,1300.5 603.7,1303.68 609.44,1306.4 615.19,1308.8 620.94,1311 626.68,1313.03 632.43,1314.86 638.18,1316.57 643.92,1318.2 649.67,1319.72 655.42,1321.13 661.17,1322.53 666.91,1324 672.66,1325.65 678.41,1327.41 684.15,1329.12 689.9,1330.6 695.65,1331.75 701.39,1332.72 707.14,1333.72 712.89,1335 718.63,1336.97 724.38,1339.53 730.13,1342.13 735.88,1344.2 741.62,1345.68 747.37,1346.94 753.12,1348.08 758.86,1349.2 764.61,1350.3 770.36,1351.33 776.1,1352.35 781.85,1353.4 787.6,1354.46 793.34,1355.53 799.09,1356.63 804.84,1357.8 810.58,1359.06 816.33,1360.4 822.08,1361.81 827.83,1363.3 833.57,1364.87 839.32,1366.53 845.07,1368.3 850.81,1370.2 856.56,1372.21 862.31,1374.37 868.05,1376.74 873.8,1379.4 879.55,1382.55 885.29,1386.21 891.04,1390.16 896.79,1394.2 902.53,1398.34 908.28,1402.68 914.03,1407.18 919.78,1411.8 925.52,1416.7 931.27,1421.86 937.02,1426.94 942.76,1431.6 948.51,1435.84 954.26,1439.85 960,1443.59 965.75,1447 971.5,1450.11 977.24,1452.98 982.99,1455.64 988.74,1458.1 994.48,1460.42 1000.23,1462.6 1005.98,1464.59 1011.73,1466.3 1017.47,1467.72 1023.22,1468.94 1028.97,1470.09 1034.71,1471.3 1040.46,1472.62 1046.21,1473.98 1051.95,1475.3 1057.7,1476.5 1063.45,1477.57 1069.19,1478.56 1074.94,1479.5 1080.69,1480.4 1086.43,1481.27 1092.18,1482.11 1097.93,1482.92 1103.68,1483.7 1109.42,1484.46 1115.17,1485.2 1120.92,1485.91 1126.66,1486.6 1132.41,1487.25 1138.16,1487.87 1143.9,1488.48 1149.65,1489.1 1155.4,1489.74 1161.14,1490.38 1166.89,1491.01 1172.64,1491.6 1178.38,1492.14 1184.13,1492.65 1189.88,1493.13 1195.62,1493.6 1201.37,1494.06 1207.12,1494.5 1212.87,1494.92 1218.61,1495.3 1224.36,1495.63 1230.11,1495.92 1235.85,1496.2 1241.6,1496.5 1247.35,1496.82 1253.09,1497.15 1258.84,1497.48 1264.59,1497.8 1270.33,1498.09 1276.08,1498.35 1281.83,1498.64 1287.58,1499 1293.32,1499.45 1299.07,1499.99 1304.82,1500.67 1310.56,1501.5 1316.31,1502.69 1322.06,1504.34 1327.8,1506.29 1333.55,1508.4 1339.3,1510.81 1345.04,1513.61 1350.79,1516.61 1356.54,1519.6 1362.28,1522.7 1368.03,1525.96 1373.78,1529.06 1379.53,1531.7 1385.27,1533.87 1391.02,1535.8 1396.77,1537.54 1402.51,1539.1 1408.26,1540.54 1414.01,1541.86 1419.75,1543.05 1425.5,1544.1 1431.25,1545 1436.99,1545.8 1442.74,1546.55 1448.49,1547.3 1454.23,1548.1 1459.98,1548.92 1465.73,1549.67 1471.47,1550.3 1477.22,1550.8 1482.97,1551.22 1488.72,1551.61 1494.46,1552 1500.21,1552.41 1505.96,1552.83 1511.7,1553.21 1517.45,1553.5 1523.2,1553.73 1528.94,1553.94 1534.69,1554.13 1540.44,1554.31 1546.18,1554.48 1551.93,1554.64 1557.68,1554.79 1563.43,1554.93 1569.17,1555.06 1574.92,1555.19 1580.67,1555.31 1586.41,1555.43 1592.16,1555.55 1597.91,1555.68 1603.65,1555.8 1609.4,1555.93 1615.15,1556.06 1620.89,1556.2 1626.64,1556.34 1632.39,1556.5 1638.13,1556.66 1643.88,1556.83 1649.63,1556.99 1655.38,1557.16 1661.12,1557.33 1666.87,1557.5 1672.62,1557.67 1678.36,1557.84 1684.11,1558.01 1689.86,1558.19 1695.6,1558.36 1701.35,1558.54 1707.1,1558.72 1712.84,1558.9 1718.59,1559.08 1724.34,1559.26 1730.08,1559.44 1735.83,1559.63 1741.58,1559.81 1747.33,1560 1753.07,1560.19 1758.82,1560.39 1764.57,1560.6 1770.31,1560.81 1776.06,1561.02 1781.81,1561.24 1787.55,1561.47 1793.3,1561.69 1799.05,1561.91 1804.79,1562.13 1810.54,1562.35 1816.29,1562.57 1822.03,1562.78 1827.78,1562.98 1833.53,1563.17 1839.28,1563.36 1845.02,1563.54 1850.77,1563.71 1856.52,1563.86 1862.26,1564 1868.01,1564.13 1873.76,1564.27 1879.5,1564.41 1885.25,1564.55 1891,1564.69 1896.74,1564.82 1902.49,1564.96 1908.24,1565.09 1913.98,1565.21 1919.73,1565.33 1925.48,1565.45 1931.22,1565.55 1936.97,1565.65 1942.72,1565.74 1948.47,1565.81 1954.21,1565.88 1959.96,1565.93 1965.71,1565.97 1971.45,1565.99 1977.2,1566 1982.95,1566 1988.69,1566 1994.44,1566 2000.19,1566 2005.93,1566 2011.68,1566 2017.43,1566 2023.18,1566 2028.92,1566 2034.67,1566 2040.42,1566 2046.16,1566 2051.91,1566 2057.66,1566 2063.4,1566 2069.15,1566 2074.9,1566 2080.64,1566 2086.39,1566 2092.14,1566 2097.88,1566 2103.63,1566 2109.38,1566 2115.12,1566 2120.87,1566 2126.62,1566 2132.37,1566 2138.11,1566 2143.86,1566 2149.61,1566 2155.35,1566 2161.1,1566 2166.85,1566 2172.59,1566 2178.34,1566 2184.09,1566 2189.83,1566 2195.58,1566 2201.33,1566 2207.08,1566 2212.82,1566 2218.57,1566 2224.32,1566 2230.06,1566 2235.81,1566 2241.56,1566 2247.3,1566 2253.05,1566" fill="none" stroke="#FF0000" stroke-width="8.7" stroke-linejoin="round"/>
<path d="M302.8 1524a19.3 19.3 0 1 0 38.6 0a19.3 19.3 0 1 0 -38.6 0zM325.79 1230.5a19.3 19.3 0 1 0 38.6 0a19.3 19.3 0 1 0 -38.6 0zM348.78 994.6a19.3 19.3 0 1 0 38.6 0a19.3 19.3 0 1 0 -38.6 0zM371.76 951a19.3 19.3 0 1 0 38.6 0a19.3 19.3 0 1 0 -38.6 0zM394.75 1016.5a19.3 19.3 0 1 0 38.6 0a19.3 19.3 0 1 0 -38.6 0zM417.74 1083.5a19.3 19.3 0 1 0 38.6 0a19.3 19.3 0 1 0 -38.6 0zM440.73 1140a19.3 19.3 0 1 0 38.6 0a19.3 19.3 0 1 0 -38.6 0zM463.71 1180.5a19.3 19.3 0 1 0 38.6 0a19.3 19.3 0 1 0 -38.6 0zM486.7 1210a19.3 19.3 0 1 0 38.6 0a19.3 19.3 0 1 0 -38.6 0zM509.69 1240a19.3 19.3 0 1 0 38.6 0a19.3 19.3 0 1 0 -38.6 0zM532.68 1262.4a19.3 19.3 0 1 0 38.6 0a19.3 19.3 0 1 0 -38.6 0zM555.66 1280.5a19.3 19.3 0 1 0 38.6 0a19.3 19.3 0 1 0 -38.6 0zM578.65 1300.5a19.3 19.3 0 1 0 38.6 0a19.3 19.3 0 1 0 -38.6 0zM601.64 1311a19.3 19.3 0 1 0 38.6 0a19.3 19.3 0 1 0 -38.6 0zM624.62 1318.2a19.3 19.3 0 1 0 38.6 0a19.3 19.3 0 1 0 -38.6 0zM647.61 1324a19.3 19.3 0 1 0 38.6 0a19.3 19.3 0 1 0 -38.6 0zM670.6 1330.6a19.3 19.3 0 1 0 38.6 0a19.3 19.3 0 1 0 -38.6 0zM693.59 1335a19.3 19.3 0 1 0 38.6 0a19.3 19.3 0 1 0 -38.6 0zM716.58 1344.2a19.3 19.3 0 1 0 38.6 0a19.3 19.3 0 1 0 -38.6 0zM739.56 1349.2a19.3 19.3 0 1 0 38.6 0a19.3 19.3 0 1 0 -38.6 0zM762.55 1353.4a19.3 19.3 0 1 0 38.6 0a19.3 19.3 0 1 0 -38.6 0zM785.54 1357.8a19.3 19.3 0 1 0 38.6 0a19.3 19.3 0 1 0 -38.6 0zM808.53 1363.3a19.3 19.3 0 1 0 38.6 0a19.3 19.3 0 1 0 -38.6 0zM831.51 1370.2a19.3 19.3 0 1 0 38.6 0a19.3 19.3 0 1 0 -38.6 0zM854.5 1379.4a19.3 19.3 0 1 0 38.6 0a19.3 19.3 0 1 0 -38.6 0zM877.49 1394.2a19.3 19.3 0 1 0 38.6 0a19.3 19.3 0 1 0 -38.6 0zM900.48 1411.8a19.3 19.3 0 1 0 38.6 0a19.3 19.3 0 1 0 -38.6 0zM923.46 1431.6a19.3 19.3 0 1 0 38.6 0a19.3 19.3 0 1 0 -38.6 0zM946.45 1447a19.3 19.3 0 1 0 38.6 0a19.3 19.3 0 1 0 -38.6 0zM969.44 1458.1a19.3 19.3 0 1 0 38.6 0a19.3 19.3 0 1 0 -38.6 0zM992.43 1466.3a19.3 19.3 0 1 0 38.6 0a19.3 19.3 0 1 0 -38.6 0zM1015.41 1471.3a19.3 19.3 0 1 0 38.6 0a19.3 19.3 0 1 0 -38.6 0zM1038.4 1476.5a19.3 19.3 0 1 0 38.6 0a19.3 19.3 0 1 0 -38.6 0zM1061.39 1480.4a19.3 19.3 0 1 0 38.6 0a19.3 19.3 0 1 0 -38.6 0zM1084.38 1483.7a19.3 19.3 0 1 0 38.6 0a19.3 19.3 0 1 0 -38.6 0zM1107.36 1486.6a19.3 19.3 0 1 0 38.6 0a19.3 19.3 0 1 0 -38.6 0zM1130.35 1489.1a19.3 19.3 0 1 0 38.6 0a19.3 19.3 0 1 0 -38.6 0zM1153.34 1491.6a19.3 19.3 0 1 0 38.6 0a19.3 19.3 0 1 0 -38.6 0zM1176.33 1493.6a19.3 19.3 0 1 0 38.6 0a19.3 19.3 0 1 0 -38.6 0zM1199.31 1495.3a19.3 19.3 0 1 0 38.6 0a19.3 19.3 0 1 0 -38.6 0zM1222.3 1496.5a19.3 19.3 0 1 0 38.6 0a19.3 19.3 0 1 0 -38.6 0zM1245.29 1497.8a19.3 19.3 0 1 0 38.6 0a19.3 19.3 0 1 0 -38.6 0zM1268.28 1499a19.3 19.3 0 1 0 38.6 0a19.3 19.3 0 1 0 -38.6 0zM1291.26 1501.5a19.3 19.3 0 1 0 38.6 0a19.3 19.3 0 1 0 -38.6 0zM1314.25 1508.4a19.3 19.3 0 1 0 38.6 0a19.3 19.3 0 1 0 -38.6 0zM1337.24 1519.6a19.3 19.3 0 1 0 38.6 0a19.3 19.3 0 1 0 -38.6 0zM1360.23 1531.7a19.3 19.3 0 1 0 38.6 0a19.3 19.3 0 1 0 -38.6 0zM1383.21 1539.1a19.3 19.3 0 1 0 38.6 0a19.3 19.3 0 1 0 -38.6 0zM1406.2 1544.1a19.3 19.3 0 1 0 38.6 0a19.3 19.3 0 1 0 -38.6 0zM1429.19 1547.3a19.3 19.3 0 1 0 38.6 0a19.3 19.3 0 1 0 -38.6 0zM1452.17 1550.3a19.3 19.3 0 1 0 38.6 0a19.3 19.3 0 1 0 -38.6 0zM1475.16 1552a19.3 19.3 0 1 0 38.6 0a19.3 19.3 0 1 0 -38.6 0zM1498.15 1553.5a19.3 19.3 0 1 0 38.6 0a19.3 19.3 0 1 0 -38.6 0zM1521.14 1554.31a19.3 19.3 0 1 0 38.6 0a19.3 19.3 0 1 0 -38.6 0zM1544.13 1554.93a19.3 19.3 0 1 0 38.6 0a19.3 19.3 0 1 0 -38.6 0zM1567.11 1555.43a19.3 19.3 0 1 0 38.6 0a19.3 19.3 0 1 0 -38.6 0zM1590.1 1555.93a19.3 19.3 0 1 0 38.6 0a19.3 19.3 0 1 0 -38.6 0zM1613.09 1556.5a19.3 19.3 0 1 0 38.6 0a19.3 19.3 0 1 0 -38.6 0zM1636.08 1557.16a19.3 19.3 0 1 0 38.6 0a19.3 19.3 0 1 0 -38.6 0zM1659.06 1557.84a19.3 19.3 0 1 0 38.6 0a19.3 19.3 0 1 0 -38.6 0zM1682.05 1558.54a19.3 19.3 0 1 0 38.6 0a19.3 19.3 0 1 0 -38.6 0zM1705.04 1559.26a19.3 19.3 0 1 0 38.6 0a19.3 19.3 0 1 0 -38.6 0zM1728.03 1560a19.3 19.3 0 1 0 38.6 0a19.3 19.3 0 1 0 -38.6 0zM1751.01 1560.81a19.3 19.3 0 1 0 38.6 0a19.3 19.3 0 1 0 -38.6 0zM1774 1561.69a19.3 19.3 0 1 0 38.6 0a19.3 19.3 0 1 0 -38.6 0zM1796.99 1562.57a19.3 19.3 0 1 0 38.6 0a19.3 19.3 0 1 0 -38.6 0zM1819.98 1563.36a19.3 19.3 0 1 0 38.6 0a19.3 19.3 0 1 0 -38.6 0zM1842.96 1564a19.3 19.3 0 1 0 38.6 0a19.3 19.3 0 1 0 -38.6 0zM1865.95 1564.55a19.3 19.3 0 1 0 38.6 0a19.3 19.3 0 1 0 -38.6 0zM1888.94 1565.09a19.3 19.3 0 1 0 38.6 0a19.3 19.3 0 1 0 -38.6 0zM1911.92 1565.55a19.3 19.3 0 1 0 38.6 0a19.3 19.3 0 1 0 -38.6 0zM1934.91 1565.88a19.3 19.3 0 1 0 38.6 0a19.3 19.3 0 1 0 -38.6 0zM1957.9 1566a19.3 19.3 0 1 0 38.6 0a19.3 19.3 0 1 0 -38.6 0zM1980.89 1566a19.3 19.3 0 1 0 38.6 0a19.3 19.3 0 1 0 -38.6 0zM2003.88 1566a19.3 19.3 0 1 0 38.6 0a19.3 19.3 0 1 0 -38.6 0zM2026.86 1566a19.3 19.3 0 1 0 38.6 0a19.3 19.3 0 1 0 -38.6 0zM2049.85 1566a19.3 19.3 0 1 0 38.6 0a19.3 19.3 0 1 0 -38.6 0zM2072.84 1566a19.3 19.3 0 1 0 38.6 0a19.3 19.3 0 1 0 -38.6 0zM2095.82 1566a19.3 19.3 0 1 0 38.6 0a19.3 19.3 0 1 0 -38.6 0zM2118.81 1566a19.3 19.3 0 1 0 38.6 0a19.3 19.3 0 1 0 -38.6 0zM2141.8 1566a19.3 19.3 0 1 0 38.6 0a19.3 19.3 0 1 0 -38.6 0zM2164.79 1566a19.3 19.3 0 1 0 38.6 0a19.3 19.3 0 1 0 -38.6 0zM2187.78 1566a19.3 19.3 0 1 0 38.6 0a19.3 19.3 0 1 0 -38.6 0zM2210.76 1566a19.3 19.3 0 1 0 38.6 0a19.3 19.3 0 1 0 -38.6 0zM2233.75 1566a19.3 19.3 0 1 0 38.6 0a19.3 19.3 0 1 0 -38.6 0z" fill="#FF0000"/>
</g>
<g id="s-blue">
<polyline points="299.11,1730 304.86,1674.33 310.61,1619.59 316.35,1565.81 322.1,1513 327.85,1459.36 333.59,1405.43 339.34,1354.79 345.09,1311 350.83,1270.37 356.58,1231.16 362.33,1199.88 368.08,1183 373.82,1176.12 379.57,1170.75 385.32,1167.25 391.06,1166 396.81,1168.07 402.56,1173.14 408.3,1179.52 414.05,1185.5 419.8,1190.87 425.54,1196.47 431.29,1202.21 437.04,1208 442.78,1214 448.53,1220.21 454.28,1226.26 460.03,1231.8 465.77,1236.77 471.52,1241.42 477.27,1245.81 483.01,1250 488.76,1253.85 494.51,1257.41 500.25,1261.02 506,1265 511.75,1269.62 517.49,1274.71 523.24,1279.94 528.99,1285 534.73,1289.87 540.48,1294.69 546.23,1299.42 551.98,1304 557.72,1308.22 563.47,1312.17 569.22,1316.29 574.96,1321 580.71,1327.42 586.46,1335.16 592.2,1342.32 597.95,1347 603.7,1349.4 609.44,1351.18 615.19,1352.67 620.94,1354.2 626.68,1355.89 632.43,1357.56 638.18,1359.1 643.92,1360.4 649.67,1361.39 655.42,1362.2 661.17,1363.01 666.91,1364 672.66,1365.44 678.41,1367.23 684.15,1368.97 689.9,1370.3 695.65,1371.11 701.39,1371.72 707.14,1372.34 712.89,1373.2 718.63,1374.71 724.38,1376.83 730.13,1379.08 735.88,1381 741.62,1382.5 747.37,1383.86 753.12,1385.13 758.86,1386.4 764.61,1387.69 770.36,1388.97 776.1,1390.18 781.85,1391.3 787.6,1392.28 793.34,1393.17 799.09,1394.05 804.84,1395 810.58,1396.04 816.33,1397.14 822.08,1398.3 827.83,1399.5 833.57,1400.73 839.32,1402.01 845.07,1403.38 850.81,1404.9 856.56,1406.64 862.31,1408.6 868.05,1410.71 873.8,1412.9 879.55,1415.12 885.29,1417.44 891.04,1419.96 896.79,1422.8 902.53,1426.2 908.28,1430.13 914.03,1434.3 919.78,1438.4 925.52,1442.47 931.27,1446.64 937.02,1450.71 942.76,1454.5 948.51,1458.02 954.26,1461.38 960,1464.53 965.75,1467.4 971.5,1470.03 977.24,1472.48 982.99,1474.74 988.74,1476.8 994.48,1478.66 1000.23,1480.36 1005.98,1481.95 1011.73,1483.5 1017.47,1485.01 1023.22,1486.46 1028.97,1487.86 1034.71,1489.2 1040.46,1490.53 1046.21,1491.84 1051.95,1493.06 1057.7,1494.1 1063.45,1494.98 1069.19,1495.77 1074.94,1496.48 1080.69,1497.1 1086.43,1497.63 1092.18,1498.1 1097.93,1498.54 1103.68,1499 1109.42,1499.5 1115.17,1500.01 1120.92,1500.52 1126.66,1501 1132.41,1501.43 1138.16,1501.83 1143.9,1502.24 1149.65,1502.7 1155.4,1503.26 1161.14,1503.89 1166.89,1504.55 1172.64,1505.2 1178.38,1505.85 1184.13,1506.51 1189.88,1507.14 1195.62,1507.7 1201.37,1508.18 1207.12,1508.6 1212.87,1509.01 1218.61,1509.4 1224.36,1509.8 1230.11,1510.2 1235.85,1510.57 1241.6,1510.9 1247.35,1511.19 1253.09,1511.45 1258.84,1511.68 1264.59,1511.9 1270.33,1512.07 1276.08,1512.22 1281.83,1512.38 1287.58,1512.6 1293.32,1512.99 1299.07,1513.57 1304.82,1514.29 1310.56,1515.1 1316.31,1516.05 1322.06,1517.23 1327.8,1518.59 1333.55,1520.1 1339.3,1521.89 1345.04,1524.01 1350.79,1526.33 1356.54,1528.7 1362.28,1531.22 1368.03,1533.93 1373.78,1536.63 1379.53,1539.1 1385.27,1541.38 1391.02,1543.57 1396.77,1545.58 1402.51,1547.3 1408.26,1548.8 1414.01,1550.17 1419.75,1551.35 1425.5,1552.3 1431.25,1553.03 1436.99,1553.65 1442.74,1554.19 1448.49,1554.7 1454.23,1555.21 1459.98,1555.7 1465.73,1556.13 1471.47,1556.5 1477.22,1556.79 1482.97,1557.04 1488.72,1557.26 1494.46,1557.5 1500.21,1557.75 1505.96,1558 1511.7,1558.25 1517.45,1558.5 1523.2,1558.73 1528.94,1558.95 1534.69,1559.19 1540.44,1559.5 1546.18,1560 1551.93,1560.69 1557.68,1561.41 1563.43,1562 1569.17,1562.46 1574.92,1562.89 1580.67,1563.24 1586.41,1563.5 1592.16,1563.68 1597.91,1563.84 1603.65,1563.98 1609.4,1564.1 1615.15,1564.21 1620.89,1564.31 1626.64,1564.4 1632.39,1564.5 1638.13,1564.6 1643.88,1564.7 1649.63,1564.8 1655.38,1564.9 1661.12,1565.01 1666.87,1565.11 1672.62,1565.21 1678.36,1565.31 1684.11,1565.4 1689.86,1565.49 1695.6,1565.58 1701.35,1565.66 1707.1,1565.73 1712.84,1565.8 1718.59,1565.86 1724.34,1565.91 1730.08,1565.95 1735.83,1565.98 1741.58,1565.99 1747.33,1566 1753.07,1566 1758.82,1566 1764.57,1566 1770.31,1566 1776.06,1566 1781.81,1566 1787.55,1566 1793.3,1566 1799.05,1566 1804.79,1566 1810.54,1566 1816.29,1566 1822.03,1566 1827.78,1566 1833.53,1566 1839.28,1566 1845.02,1566 1850.77,1566 1856.52,1566 1862.26,1566 1868.01,1566 1873.76,1566 1879.5,1566 1885.25,1566 1891,1566 1896.74,1566 1902.49,1566 1908.24,1566 1913.98,1566 1919.73,1566 1925.48,1566 1931.22,1566 1936.97,1566 1942.72,1566 1948.47,1566 1954.21,1566 1959.96,1566 1965.71,1566 1971.45,1566 1977.2,1566 1982.95,1566 1988.69,1566 1994.44,1566 2000.19,1566 2005.93,1566 2011.68,1566 2017.43,1566 2023.18,1566 2028.92,1566 2034.67,1566 2040.42,1566 2046.16,1566 2051.91,1566 2057.66,1566 2063.4,1566 2069.15,1566 2074.9,1566 2080.64,1566 2086.39,1566 2092.14,1566 2097.88,1566 2103.63,1566 2109.38,1566 2115.12,1566 2120.87,1566 2126.62,1566 2132.37,1566 2138.11,1566 2143.86,1566 2149.61,1566 2155.35,1566 2161.1,1566 2166.85,1566 2172.59,1566 2178.34,1566 2184.09,1566 2189.83,1566 2195.58,1566 2201.33,1566 2207.08,1566 2212.82,1566 2218.57,1566 2224.32,1566 2230.06,1566 2235.81,1566 2241.56,1566 2247.3,1566 2253.05,1566" fill="none" stroke="#0000FF" stroke-width="8.7" stroke-linejoin="round"/>
<path d="M322.1 1488.6L343.7 1524.6L300.5 1524.6zM345.09 1286.6L366.69 1322.6L323.49 1322.6zM368.08 1158.6L389.68 1194.6L346.48 1194.6zM391.06 1141.6L412.66 1177.6L369.46 1177.6zM414.05 1161.1L435.65 1197.1L392.45 1197.1zM437.04 1183.6L458.64 1219.6L415.44 1219.6zM460.03 1207.4L481.63 1243.4L438.43 1243.4zM483.01 1225.6L504.61 1261.6L461.41 1261.6zM506 1240.6L527.6 1276.6L484.4 1276.6zM528.99 1260.6L550.59 1296.6L507.39 1296.6zM551.98 1279.6L573.58 1315.6L530.38 1315.6zM574.96 1296.6L596.56 1332.6L553.36 1332.6zM597.95 1322.6L619.55 1358.6L576.35 1358.6zM620.94 1329.8L642.54 1365.8L599.34 1365.8zM643.92 1336L665.52 1372L622.32 1372zM666.91 1339.6L688.51 1375.6L645.31 1375.6zM689.9 1345.9L711.5 1381.9L668.3 1381.9zM712.89 1348.8L734.49 1384.8L691.29 1384.8zM735.88 1356.6L757.48 1392.6L714.27 1392.6zM758.86 1362L780.46 1398L737.26 1398zM781.85 1366.9L803.45 1402.9L760.25 1402.9zM804.84 1370.6L826.44 1406.6L783.24 1406.6zM827.83 1375.1L849.43 1411.1L806.23 1411.1zM850.81 1380.5L872.41 1416.5L829.21 1416.5zM873.8 1388.5L895.4 1424.5L852.2 1424.5zM896.79 1398.4L918.39 1434.4L875.19 1434.4zM919.78 1414L941.38 1450L898.18 1450zM942.76 1430.1L964.36 1466.1L921.16 1466.1zM965.75 1443L987.35 1479L944.15 1479zM988.74 1452.4L1010.34 1488.4L967.14 1488.4zM1011.73 1459.1L1033.33 1495.1L990.12 1495.1zM1034.71 1464.8L1056.31 1500.8L1013.11 1500.8zM1057.7 1469.7L1079.3 1505.7L1036.1 1505.7zM1080.69 1472.7L1102.29 1508.7L1059.09 1508.7zM1103.68 1474.6L1125.28 1510.6L1082.08 1510.6zM1126.66 1476.6L1148.26 1512.6L1105.06 1512.6zM1149.65 1478.3L1171.25 1514.3L1128.05 1514.3zM1172.64 1480.8L1194.24 1516.8L1151.04 1516.8zM1195.62 1483.3L1217.22 1519.3L1174.03 1519.3zM1218.61 1485L1240.21 1521L1197.01 1521zM1241.6 1486.5L1263.2 1522.5L1220 1522.5zM1264.59 1487.5L1286.19 1523.5L1242.99 1523.5zM1287.58 1488.2L1309.17 1524.2L1265.98 1524.2zM1310.56 1490.7L1332.16 1526.7L1288.96 1526.7zM1333.55 1495.7L1355.15 1531.7L1311.95 1531.7zM1356.54 1504.3L1378.14 1540.3L1334.94 1540.3zM1379.53 1514.7L1401.12 1550.7L1357.93 1550.7zM1402.51 1522.9L1424.11 1558.9L1380.91 1558.9zM1425.5 1527.9L1447.1 1563.9L1403.9 1563.9zM1448.49 1530.3L1470.09 1566.3L1426.89 1566.3zM1471.47 1532.1L1493.07 1568.1L1449.88 1568.1zM1494.46 1533.1L1516.06 1569.1L1472.86 1569.1zM1517.45 1534.1L1539.05 1570.1L1495.85 1570.1zM1540.44 1535.1L1562.04 1571.1L1518.84 1571.1zM1563.43 1537.6L1585.03 1573.6L1541.83 1573.6zM1586.41 1539.1L1608.01 1575.1L1564.81 1575.1zM1609.4 1539.7L1631 1575.7L1587.8 1575.7zM1632.39 1540.1L1653.99 1576.1L1610.79 1576.1zM1655.38 1540.5L1676.97 1576.5L1633.78 1576.5zM1678.36 1540.91L1699.96 1576.91L1656.76 1576.91zM1701.35 1541.26L1722.95 1577.26L1679.75 1577.26zM1724.34 1541.51L1745.94 1577.51L1702.74 1577.51zM1747.33 1541.6L1768.93 1577.6L1725.73 1577.6zM1770.31 1541.6L1791.91 1577.6L1748.71 1577.6zM1793.3 1541.6L1814.9 1577.6L1771.7 1577.6zM1816.29 1541.6L1837.89 1577.6L1794.69 1577.6zM1839.28 1541.6L1860.88 1577.6L1817.68 1577.6zM1862.26 1541.6L1883.86 1577.6L1840.66 1577.6zM1885.25 1541.6L1906.85 1577.6L1863.65 1577.6zM1908.24 1541.6L1929.84 1577.6L1886.64 1577.6zM1931.22 1541.6L1952.82 1577.6L1909.62 1577.6zM1954.21 1541.6L1975.81 1577.6L1932.61 1577.6zM1977.2 1541.6L1998.8 1577.6L1955.6 1577.6zM2000.19 1541.6L2021.79 1577.6L1978.59 1577.6zM2023.18 1541.6L2044.78 1577.6L2001.58 1577.6zM2046.16 1541.6L2067.76 1577.6L2024.56 1577.6zM2069.15 1541.6L2090.75 1577.6L2047.55 1577.6zM2092.14 1541.6L2113.74 1577.6L2070.54 1577.6zM2115.12 1541.6L2136.72 1577.6L2093.53 1577.6zM2138.11 1541.6L2159.71 1577.6L2116.51 1577.6zM2161.1 1541.6L2182.7 1577.6L2139.5 1577.6zM2184.09 1541.6L2205.69 1577.6L2162.49 1577.6zM2207.08 1541.6L2228.68 1577.6L2185.48 1577.6zM2230.06 1541.6L2251.66 1577.6L2208.46 1577.6zM2253.05 1541.6L2274.65 1577.6L2231.45 1577.6z" fill="#0000FF" stroke="#0000FF" stroke-width="4.2" stroke-linejoin="round"/>
</g>
<g id="s-teal">
<polyline points="299.11,1500 304.86,1434.32 310.61,1371 316.35,1310.17 322.1,1252 327.85,1196.44 333.59,1143.17 339.34,1091.91 345.09,1042.4 350.83,986.52 356.58,926.93 362.33,879.53 368.08,860.2 373.82,866.16 379.57,881.44 385.32,902.13 391.06,924.3 396.81,951.6 402.56,986.55 408.3,1023.57 414.05,1057.1 419.8,1086.55 425.54,1114.79 431.29,1141.41 437.04,1166 442.78,1188.73 448.53,1210.03 454.28,1229.89 460.03,1248.3 465.77,1265.59 471.52,1281.89 477.27,1296.9 483.01,1310.3 488.76,1322.12 494.51,1332.81 500.25,1342.72 506,1352.2 511.75,1361.44 517.49,1370.3 523.24,1378.6 528.99,1386.2 534.73,1393.23 540.48,1399.83 546.23,1405.84 551.98,1411.1 557.72,1415.45 563.47,1419.18 569.22,1422.82 574.96,1426.9 580.71,1432.4 586.46,1438.8 592.2,1444.4 597.95,1447.5 603.7,1448.54 609.44,1449.25 615.19,1449.81 620.94,1450.4 626.68,1451.17 632.43,1451.99 638.18,1452.64 643.92,1452.9 649.67,1452.9 655.42,1452.9 661.17,1452.9 666.91,1452.9 672.66,1452.9 678.41,1452.9 684.15,1452.9 689.9,1452.9 695.65,1452.63 701.39,1451.96 707.14,1451.14 712.89,1450.4 718.63,1449.8 724.38,1449.21 730.13,1448.59 735.88,1447.9 741.62,1447.06 747.37,1446.11 753.12,1445.12 758.86,1444.2 764.61,1443.29 770.36,1442.36 776.1,1441.55 781.85,1441 787.6,1440.63 793.34,1440.31 799.09,1440.08 804.84,1440 810.58,1440.15 816.33,1440.53 822.08,1441.08 827.83,1441.7 833.57,1442.55 839.32,1443.74 845.07,1445.16 850.81,1446.7 856.56,1448.42 862.31,1450.41 868.05,1452.59 873.8,1454.9 879.55,1457.29 885.29,1459.84 891.04,1462.65 896.79,1465.8 902.53,1469.58 908.28,1473.97 914.03,1478.63 919.78,1483.2 925.52,1487.59 931.27,1491.98 937.02,1496.45 942.76,1501.1 948.51,1506.24 954.26,1511.75 960,1517.01 965.75,1521.4 971.5,1525.02 977.24,1528.29 982.99,1531.09 988.74,1533.3 994.48,1534.99 1000.23,1536.38 1005.98,1537.61 1011.73,1538.8 1017.47,1540.08 1023.22,1541.36 1028.97,1542.46 1034.71,1543.2 1040.46,1543.63 1046.21,1543.94 1051.95,1544.21 1057.7,1544.5 1063.45,1544.82 1069.19,1545.15 1074.94,1545.47 1080.69,1545.79 1086.43,1546.11 1092.18,1546.42 1097.93,1546.71 1103.68,1547 1109.42,1547.28 1115.17,1547.54 1120.92,1547.81 1126.66,1548.06 1132.41,1548.31 1138.16,1548.55 1143.9,1548.78 1149.65,1549 1155.4,1549.21 1161.14,1549.41 1166.89,1549.59 1172.64,1549.78 1178.38,1549.96 1184.13,1550.14 1189.88,1550.32 1195.62,1550.5 1201.37,1550.69 1207.12,1550.89 1212.87,1551.09 1218.61,1551.29 1224.36,1551.48 1230.11,1551.67 1235.85,1551.84 1241.6,1552 1247.35,1552.14 1253.09,1552.28 1258.84,1552.4 1264.59,1552.53 1270.33,1552.64 1276.08,1552.76 1281.83,1552.88 1287.58,1553 1293.32,1553.13 1299.07,1553.25 1304.82,1553.38 1310.56,1553.5 1316.31,1553.63 1322.06,1553.76 1327.8,1553.89 1333.55,1554.02 1339.3,1554.15 1345.04,1554.28 1350.79,1554.41 1356.54,1554.53 1362.28,1554.66 1368.03,1554.79 1373.78,1554.92 1379.53,1555.05 1385.27,1555.18 1391.02,1555.31 1396.77,1555.44 1402.51,1555.57 1408.26,1555.7 1414.01,1555.83 1419.75,1555.95 1425.5,1556.08 1431.25,1556.21 1436.99,1556.33 1442.74,1556.46 1448.49,1556.58 1454.23,1556.71 1459.98,1556.83 1465.73,1556.95 1471.47,1557.07 1477.22,1557.19 1482.97,1557.31 1488.72,1557.43 1494.46,1557.55 1500.21,1557.66 1505.96,1557.78 1511.7,1557.89 1517.45,1558 1523.2,1558.11 1528.94,1558.22 1534.69,1558.33 1540.44,1558.44 1546.18,1558.55 1551.93,1558.66 1557.68,1558.77 1563.43,1558.88 1569.17,1558.98 1574.92,1559.09 1580.67,1559.2 1586.41,1559.3 1592.16,1559.41 1597.91,1559.51 1603.65,1559.62 1609.4,1559.72 1615.15,1559.82 1620.89,1559.92 1626.64,1560.03 1632.39,1560.13 1638.13,1560.23 1643.88,1560.33 1649.63,1560.43 1655.38,1560.52 1661.12,1560.62 1666.87,1560.72 1672.62,1560.82 1678.36,1560.91 1684.11,1561.01 1689.86,1561.1 1695.6,1561.19 1701.35,1561.29 1707.1,1561.38 1712.84,1561.47 1718.59,1561.56 1724.34,1561.65 1730.08,1561.74 1735.83,1561.83 1741.58,1561.91 1747.33,1562 1753.07,1562.09 1758.82,1562.18 1764.57,1562.27 1770.31,1562.36 1776.06,1562.46 1781.81,1562.55 1787.55,1562.65 1793.3,1562.75 1799.05,1562.85 1804.79,1562.95 1810.54,1563.05 1816.29,1563.15 1822.03,1563.25 1827.78,1563.35 1833.53,1563.45 1839.28,1563.55 1845.02,1563.65 1850.77,1563.74 1856.52,1563.84 1862.26,1563.93 1868.01,1564.02 1873.76,1564.11 1879.5,1564.19 1885.25,1564.27 1891,1564.35 1896.74,1564.43 1902.49,1564.5 1908.24,1564.57 1913.98,1564.63 1919.73,1564.69 1925.48,1564.75 1931.22,1564.8 1936.97,1564.84 1942.72,1564.88 1948.47,1564.92 1954.21,1564.95 1959.96,1564.97 1965.71,1564.99 1971.45,1565 1977.2,1565 1982.95,1565 1988.69,1565 1994.44,1565 2000.19,1565 2005.93,1565 2011.68,1565 2017.43,1565 2023.18,1565 2028.92,1565 2034.67,1565 2040.42,1565 2046.16,1565 2051.91,1565 2057.66,1565 2063.4,1565 2069.15,1565 2074.9,1565 2080.64,1565 2086.39,1565 2092.14,1565 2097.88,1565 2103.63,1565 2109.38,1565 2115.12,1565 2120.87,1565 2126.62,1565 2132.37,1565 2138.11,1565 2143.86,1565 2149.61,1565 2155.35,1565 2161.1,1565 2166.85,1565 2172.59,1565 2178.34,1565 2184.09,1565 2189.83,1565 2195.58,1565 2201.33,1565 2207.08,1565 2212.82,1565 2218.57,1565 2224.32,1565 2230.06,1565 2235.81,1565 2241.56,1565 2247.3,1565 2253.05,1565" fill="none" stroke="#008080" stroke-width="8.7" stroke-linejoin="round"/>
<path d="M322.1 1276.4L343.7 1240.4L300.5 1240.4zM345.09 1066.8L366.69 1030.8L323.49 1030.8zM368.08 884.6L389.68 848.6L346.48 848.6zM391.06 948.7L412.66 912.7L369.46 912.7zM414.05 1081.5L435.65 1045.5L392.45 1045.5zM437.04 1190.4L458.64 1154.4L415.44 1154.4zM460.03 1272.7L481.63 1236.7L438.43 1236.7zM483.01 1334.7L504.61 1298.7L461.41 1298.7zM506 1376.6L527.6 1340.6L484.4 1340.6zM528.99 1410.6L550.59 1374.6L507.39 1374.6zM551.98 1435.5L573.58 1399.5L530.38 1399.5zM574.96 1451.3L596.56 1415.3L553.36 1415.3zM597.95 1471.9L619.55 1435.9L576.35 1435.9zM620.94 1474.8L642.54 1438.8L599.34 1438.8zM643.92 1477.3L665.52 1441.3L622.32 1441.3zM666.91 1477.3L688.51 1441.3L645.31 1441.3zM689.9 1477.3L711.5 1441.3L668.3 1441.3zM712.89 1474.8L734.49 1438.8L691.29 1438.8zM735.88 1472.3L757.48 1436.3L714.27 1436.3zM758.86 1468.6L780.46 1432.6L737.26 1432.6zM781.85 1465.4L803.45 1429.4L760.25 1429.4zM804.84 1464.4L826.44 1428.4L783.24 1428.4zM827.83 1466.1L849.43 1430.1L806.23 1430.1zM850.81 1471.1L872.41 1435.1L829.21 1435.1zM873.8 1479.3L895.4 1443.3L852.2 1443.3zM896.79 1490.2L918.39 1454.2L875.19 1454.2zM919.78 1507.6L941.38 1471.6L898.18 1471.6zM942.76 1525.5L964.36 1489.5L921.16 1489.5zM965.75 1545.8L987.35 1509.8L944.15 1509.8zM988.74 1557.7L1010.34 1521.7L967.14 1521.7zM1011.73 1563.2L1033.33 1527.2L990.12 1527.2zM1034.71 1567.6L1056.31 1531.6L1013.11 1531.6zM1057.7 1568.9L1079.3 1532.9L1036.1 1532.9zM1080.69 1570.19L1102.29 1534.19L1059.09 1534.19zM1103.68 1571.4L1125.28 1535.4L1082.08 1535.4zM1126.66 1572.46L1148.26 1536.46L1105.06 1536.46zM1149.65 1573.4L1171.25 1537.4L1128.05 1537.4zM1172.64 1574.18L1194.24 1538.18L1151.04 1538.18zM1195.62 1574.9L1217.22 1538.9L1174.03 1538.9zM1218.61 1575.69L1240.21 1539.69L1197.01 1539.69zM1241.6 1576.4L1263.2 1540.4L1220 1540.4zM1264.59 1576.93L1286.19 1540.93L1242.99 1540.93zM1287.58 1577.4L1309.17 1541.4L1265.98 1541.4zM1310.56 1577.9L1332.16 1541.9L1288.96 1541.9zM1333.55 1578.42L1355.15 1542.42L1311.95 1542.42zM1356.54 1578.93L1378.14 1542.93L1334.94 1542.93zM1379.53 1579.45L1401.12 1543.45L1357.93 1543.45zM1402.51 1579.97L1424.11 1543.97L1380.91 1543.97zM1425.5 1580.48L1447.1 1544.48L1403.9 1544.48zM1448.49 1580.98L1470.09 1544.98L1426.89 1544.98zM1471.47 1581.47L1493.07 1545.47L1449.88 1545.47zM1494.46 1581.95L1516.06 1545.95L1472.86 1545.95zM1517.45 1582.4L1539.05 1546.4L1495.85 1546.4zM1540.44 1582.84L1562.04 1546.84L1518.84 1546.84zM1563.43 1583.28L1585.03 1547.28L1541.83 1547.28zM1586.41 1583.7L1608.01 1547.7L1564.81 1547.7zM1609.4 1584.12L1631 1548.12L1587.8 1548.12zM1632.39 1584.53L1653.99 1548.53L1610.79 1548.53zM1655.38 1584.92L1676.97 1548.92L1633.78 1548.92zM1678.36 1585.31L1699.96 1549.31L1656.76 1549.31zM1701.35 1585.69L1722.95 1549.69L1679.75 1549.69zM1724.34 1586.05L1745.94 1550.05L1702.74 1550.05zM1747.33 1586.4L1768.93 1550.4L1725.73 1550.4zM1770.31 1586.76L1791.91 1550.76L1748.71 1550.76zM1793.3 1587.15L1814.9 1551.15L1771.7 1551.15zM1816.29 1587.55L1837.89 1551.55L1794.69 1551.55zM1839.28 1587.95L1860.88 1551.95L1817.68 1551.95zM1862.26 1588.33L1883.86 1552.33L1840.66 1552.33zM1885.25 1588.67L1906.85 1552.67L1863.65 1552.67zM1908.24 1588.97L1929.84 1552.97L1886.64 1552.97zM1931.22 1589.2L1952.82 1553.2L1909.62 1553.2zM1954.21 1589.35L1975.81 1553.35L1932.61 1553.35zM1977.2 1589.4L1998.8 1553.4L1955.6 1553.4zM2000.19 1589.4L2021.79 1553.4L1978.59 1553.4zM2023.18 1589.4L2044.78 1553.4L2001.58 1553.4zM2046.16 1589.4L2067.76 1553.4L2024.56 1553.4zM2069.15 1589.4L2090.75 1553.4L2047.55 1553.4zM2092.14 1589.4L2113.74 1553.4L2070.54 1553.4zM2115.12 1589.4L2136.72 1553.4L2093.53 1553.4zM2138.11 1589.4L2159.71 1553.4L2116.51 1553.4zM2161.1 1589.4L2182.7 1553.4L2139.5 1553.4zM2184.09 1589.4L2205.69 1553.4L2162.49 1553.4zM2207.08 1589.4L2228.68 1553.4L2185.48 1553.4zM2230.06 1589.4L2251.66 1553.4L2208.46 1553.4zM2253.05 1589.4L2274.65 1553.4L2231.45 1553.4z" fill="#008080" stroke="#008080" stroke-width="4.2" stroke-linejoin="round"/>
</g>
<g id="s-magenta">
<polyline points="299.11,1385 304.86,1412.42 310.61,1436.34 316.35,1453.59 322.1,1461 327.85,1462.28 333.59,1463.22 339.34,1463.8 345.09,1464 350.83,1455.29 356.58,1433.64 362.33,1405.74 363.48,1400 368.08,1368 373.82,1356.32 379.57,1352 385.32,1358.36 391.06,1368.5 396.81,1375.94 402.56,1383.06 408.3,1389.77 414.05,1396 419.8,1401.58 425.54,1406.68 431.29,1411.69 437.04,1417 442.78,1423.15 448.53,1429.8 454.28,1436.05 460.03,1441 465.77,1444.62 471.52,1447.67 477.27,1450.38 483.01,1453 488.76,1455.47 494.51,1457.71 500.25,1460 506,1462.6 511.75,1465.82 517.49,1469.51 523.24,1473.22 528.99,1476.5 534.73,1479.38 540.48,1482.1 546.23,1484.55 551.98,1486.6 557.72,1488.14 563.47,1489.37 569.22,1490.64 574.96,1492.3 580.71,1495.18 586.46,1499.07 592.2,1502.8 597.95,1505.2 603.7,1506.35 609.44,1507.21 615.19,1507.92 620.94,1508.6 626.68,1509.34 632.43,1510.06 638.18,1510.67 643.92,1511.1 649.67,1511.4 655.42,1511.65 661.17,1511.83 666.91,1511.9 672.66,1511.9 678.41,1511.9 684.15,1511.9 689.9,1511.9 695.65,1511.73 701.39,1511.34 707.14,1510.9 712.89,1510.6 718.63,1510.46 724.38,1510.35 730.13,1510.25 735.88,1510.1 741.62,1509.82 747.37,1509.41 753.12,1508.97 758.86,1508.6 764.61,1508.28 770.36,1507.95 776.1,1507.7 781.85,1507.6 787.6,1507.68 793.34,1507.91 799.09,1508.23 804.84,1508.6 810.58,1509.17 816.33,1510.01 822.08,1510.97 827.83,1511.9 833.57,1512.8 839.32,1513.72 845.07,1514.67 850.81,1515.6 856.56,1516.5 862.31,1517.39 868.05,1518.3 873.8,1519.3 879.55,1520.35 885.29,1521.45 891.04,1522.71 896.79,1524.2 902.53,1526.22 908.28,1528.78 914.03,1531.55 919.78,1534.2 925.52,1536.76 931.27,1539.38 937.02,1541.88 942.76,1544.1 948.51,1546.05 954.26,1547.84 960,1549.49 965.75,1551 971.5,1552.39 977.24,1553.67 982.99,1554.87 988.74,1556 994.48,1557.09 1000.23,1558.13 1005.98,1559.1 1011.73,1560 1017.47,1560.84 1023.22,1561.63 1028.97,1562.35 1034.71,1563 1040.46,1563.59 1046.21,1564.15 1051.95,1564.63 1057.7,1565 1063.45,1565.29 1069.19,1565.55 1074.94,1565.79 1080.69,1566 1086.43,1566.2 1092.18,1566.39 1097.93,1566.56 1103.68,1566.72 1109.42,1566.88 1115.17,1567.03 1120.92,1567.18 1126.66,1567.33 1132.41,1567.49 1138.16,1567.65 1143.9,1567.82 1149.65,1568 1155.4,1568.19 1161.14,1568.37 1166.89,1568.55 1172.64,1568.73 1178.38,1568.91 1184.13,1569.08 1189.88,1569.26 1195.62,1569.44 1201.37,1569.62 1207.12,1569.8 1212.87,1569.99 1218.61,1570.18 1224.36,1570.38 1230.11,1570.58 1235.85,1570.79 1241.6,1571 1247.35,1571.22 1253.09,1571.43 1258.84,1571.65 1264.59,1571.88 1270.33,1572.13 1276.08,1572.39 1281.83,1572.68 1287.58,1573 1293.32,1573.38 1299.07,1573.84 1304.82,1574.35 1310.56,1574.9 1316.31,1575.47 1322.06,1576.02 1327.8,1576.54 1333.55,1577 1339.3,1577.43 1345.04,1577.85 1350.79,1578.27 1356.54,1578.67 1362.28,1579.05 1368.03,1579.4 1373.78,1579.72 1379.53,1580 1385.27,1580.25 1391.02,1580.5 1396.77,1580.73 1402.51,1580.95 1408.26,1581.17 1414.01,1581.37 1419.75,1581.57 1425.5,1581.76 1431.25,1581.93 1436.99,1582.11 1442.74,1582.27 1448.49,1582.43 1454.23,1582.58 1459.98,1582.73 1465.73,1582.87 1471.47,1583 1477.22,1583.13 1482.97,1583.25 1488.72,1583.37 1494.46,1583.49 1500.21,1583.6 1505.96,1583.71 1511.7,1583.82 1517.45,1583.92 1523.2,1584.02 1528.94,1584.12 1534.69,1584.21 1540.44,1584.3 1546.18,1584.39 1551.93,1584.48 1557.68,1584.57 1563.43,1584.66 1569.17,1584.74 1574.92,1584.83 1580.67,1584.91 1586.41,1585 1592.16,1585.09 1597.91,1585.17 1603.65,1585.26 1609.4,1585.34 1615.15,1585.43 1620.89,1585.51 1626.64,1585.59 1632.39,1585.68 1638.13,1585.76 1643.88,1585.83 1649.63,1585.91 1655.38,1585.99 1661.12,1586.06 1666.87,1586.13 1672.62,1586.2 1678.36,1586.27 1684.11,1586.33 1689.86,1586.39 1695.6,1586.45 1701.35,1586.5 1707.1,1586.55 1712.84,1586.6 1718.59,1586.65 1724.34,1586.7 1730.08,1586.76 1735.83,1586.8 1741.58,1586.85 1747.33,1586.9 1753.07,1586.95 1758.82,1587 1764.57,1587.05 1770.31,1587.09 1776.06,1587.14 1781.81,1587.18 1787.55,1587.23 1793.3,1587.27 1799.05,1587.31 1804.79,1587.35 1810.54,1587.39 1816.29,1587.43 1822.03,1587.47 1827.78,1587.51 1833.53,1587.55 1839.28,1587.59 1845.02,1587.62 1850.77,1587.65 1856.52,1587.69 1862.26,1587.72 1868.01,1587.75 1873.76,1587.78 1879.5,1587.81 1885.25,1587.83 1891,1587.86 1896.74,1587.88 1902.49,1587.91 1908.24,1587.93 1913.98,1587.95 1919.73,1587.97 1925.48,1587.98 1931.22,1588 1936.97,1588.01 1942.72,1588.03 1948.47,1588.04 1954.21,1588.06 1959.96,1588.07 1965.71,1588.09 1971.45,1588.1 1977.2,1588.12 1982.95,1588.13 1988.69,1588.14 1994.44,1588.16 2000.19,1588.17 2005.93,1588.18 2011.68,1588.2 2017.43,1588.21 2023.18,1588.22 2028.92,1588.23 2034.67,1588.25 2040.42,1588.26 2046.16,1588.27 2051.91,1588.28 2057.66,1588.29 2063.4,1588.3 2069.15,1588.31 2074.9,1588.32 2080.64,1588.33 2086.39,1588.34 2092.14,1588.35 2097.88,1588.36 2103.63,1588.37 2109.38,1588.38 2115.12,1588.39 2120.87,1588.4 2126.62,1588.41 2132.37,1588.42 2138.11,1588.42 2143.86,1588.43 2149.61,1588.44 2155.35,1588.44 2161.1,1588.45 2166.85,1588.46 2172.59,1588.46 2178.34,1588.47 2184.09,1588.47 2189.83,1588.48 2195.58,1588.48 2201.33,1588.48 2207.08,1588.49 2212.82,1588.49 2218.57,1588.49 2224.32,1588.49 2230.06,1588.5 2235.81,1588.5 2241.56,1588.5 2247.3,1588.5 2253.05,1588.5" fill="none" stroke="#FF00FF" stroke-width="8.7" stroke-linejoin="round"/>
<path d="M297.7 1461L333.7 1439.4L333.7 1482.6zM320.69 1464L356.69 1442.4L356.69 1485.6zM343.68 1368L379.68 1346.4L379.68 1389.6zM366.66 1368.5L402.66 1346.9L402.66 1390.1zM389.65 1396L425.65 1374.4L425.65 1417.6zM412.64 1417L448.64 1395.4L448.64 1438.6zM435.63 1441L471.63 1419.4L471.63 1462.6zM458.61 1453L494.61 1431.4L494.61 1474.6zM481.6 1462.6L517.6 1441L517.6 1484.2zM504.59 1476.5L540.59 1454.9L540.59 1498.1zM527.58 1486.6L563.58 1465L563.58 1508.2zM550.56 1492.3L586.56 1470.7L586.56 1513.9zM573.55 1505.2L609.55 1483.6L609.55 1526.8zM596.54 1508.6L632.54 1487L632.54 1530.2zM619.52 1511.1L655.52 1489.5L655.52 1532.7zM642.51 1511.9L678.51 1490.3L678.51 1533.5zM665.5 1511.9L701.5 1490.3L701.5 1533.5zM688.49 1510.6L724.49 1489L724.49 1532.2zM711.48 1510.1L747.48 1488.5L747.48 1531.7zM734.46 1508.6L770.46 1487L770.46 1530.2zM757.45 1507.6L793.45 1486L793.45 1529.2zM780.44 1508.6L816.44 1487L816.44 1530.2zM803.43 1511.9L839.43 1490.3L839.43 1533.5zM826.41 1515.6L862.41 1494L862.41 1537.2zM849.4 1519.3L885.4 1497.7L885.4 1540.9zM872.39 1524.2L908.39 1502.6L908.39 1545.8zM895.38 1534.2L931.38 1512.6L931.38 1555.8zM918.36 1544.1L954.36 1522.5L954.36 1565.7zM941.35 1551L977.35 1529.4L977.35 1572.6zM964.34 1556L1000.34 1534.4L1000.34 1577.6zM987.33 1560L1023.33 1538.4L1023.33 1581.6zM1010.31 1563L1046.31 1541.4L1046.31 1584.6zM1033.3 1565L1069.3 1543.4L1069.3 1586.6zM1056.29 1566L1092.29 1544.4L1092.29 1587.6zM1079.28 1566.72L1115.28 1545.12L1115.28 1588.32zM1102.26 1567.33L1138.26 1545.73L1138.26 1588.93zM1125.25 1568L1161.25 1546.4L1161.25 1589.6zM1148.24 1568.73L1184.24 1547.13L1184.24 1590.33zM1171.22 1569.44L1207.22 1547.84L1207.22 1591.04zM1194.21 1570.18L1230.21 1548.58L1230.21 1591.78zM1217.2 1571L1253.2 1549.4L1253.2 1592.6zM1240.19 1571.88L1276.19 1550.28L1276.19 1593.48zM1263.17 1573L1299.17 1551.4L1299.17 1594.6zM1286.16 1574.9L1322.16 1553.3L1322.16 1596.5zM1309.15 1577L1345.15 1555.4L1345.15 1598.6zM1332.14 1578.67L1368.14 1557.07L1368.14 1600.27zM1355.12 1580L1391.12 1558.4L1391.12 1601.6zM1378.11 1580.95L1414.11 1559.35L1414.11 1602.55zM1401.1 1581.76L1437.1 1560.16L1437.1 1603.36zM1424.09 1582.43L1460.09 1560.83L1460.09 1604.03zM1447.07 1583L1483.07 1561.4L1483.07 1604.6zM1470.06 1583.49L1506.06 1561.89L1506.06 1605.09zM1493.05 1583.92L1529.05 1562.32L1529.05 1605.52zM1516.04 1584.3L1552.04 1562.7L1552.04 1605.9zM1539.03 1584.66L1575.03 1563.06L1575.03 1606.26zM1562.01 1585L1598.01 1563.4L1598.01 1606.6zM1585 1585.34L1621 1563.74L1621 1606.94zM1607.99 1585.68L1643.99 1564.08L1643.99 1607.28zM1630.97 1585.99L1666.97 1564.39L1666.97 1607.59zM1653.96 1586.27L1689.96 1564.67L1689.96 1607.87zM1676.95 1586.5L1712.95 1564.9L1712.95 1608.1zM1699.94 1586.7L1735.94 1565.1L1735.94 1608.3zM1722.93 1586.9L1758.93 1565.3L1758.93 1608.5zM1745.91 1587.09L1781.91 1565.49L1781.91 1608.69zM1768.9 1587.27L1804.9 1565.67L1804.9 1608.87zM1791.89 1587.43L1827.89 1565.83L1827.89 1609.03zM1814.88 1587.59L1850.88 1565.99L1850.88 1609.19zM1837.86 1587.72L1873.86 1566.12L1873.86 1609.32zM1860.85 1587.83L1896.85 1566.23L1896.85 1609.43zM1883.84 1587.93L1919.84 1566.33L1919.84 1609.53zM1906.82 1588L1942.82 1566.4L1942.82 1609.6zM1929.81 1588.06L1965.81 1566.46L1965.81 1609.66zM1952.8 1588.12L1988.8 1566.52L1988.8 1609.72zM1975.79 1588.17L2011.79 1566.57L2011.79 1609.77zM1998.78 1588.22L2034.78 1566.62L2034.78 1609.82zM2021.76 1588.27L2057.76 1566.67L2057.76 1609.87zM2044.75 1588.31L2080.75 1566.71L2080.75 1609.91zM2067.74 1588.35L2103.74 1566.75L2103.74 1609.95zM2090.72 1588.39L2126.72 1566.79L2126.72 1609.99zM2113.71 1588.42L2149.71 1566.82L2149.71 1610.02zM2136.7 1588.45L2172.7 1566.85L2172.7 1610.05zM2159.69 1588.47L2195.69 1566.87L2195.69 1610.07zM2182.68 1588.49L2218.68 1566.89L2218.68 1610.09zM2205.66 1588.5L2241.66 1566.9L2241.66 1610.1zM2228.65 1588.5L2264.65 1566.9L2264.65 1610.1z" fill="#FF00FF" stroke="#FF00FF" stroke-width="4.2" stroke-linejoin="round"/>
</g>
<g id="s-olive">
<polyline points="299.11,1310 304.86,1351.84 310.61,1369.26 316.35,1372.96 317.96,1373 322.1,1323 327.85,1300.12 333.59,1287.42 339.34,1276.17 345.09,1257.6 349,1232 350.6,1216 350.83,1215.92 356.58,1214.79 362.33,1214.5 368.08,1213.6 373.82,1203.88 374.97,1200 376.35,1189 378.19,1205 379.57,1214.83 381.87,1228 385.32,1240.91 391.06,1257.6 396.81,1274.65 402.56,1291.04 408.3,1306.92 414.05,1322.5 419.8,1338.03 425.54,1353.38 431.29,1368.08 437.04,1381.7 442.78,1394.34 448.53,1406.3 454.28,1417.43 460.03,1427.6 465.77,1437 471.52,1445.8 477.27,1453.8 483.01,1460.8 488.76,1466.71 494.51,1471.88 500.25,1476.76 506,1481.8 511.75,1487.2 517.49,1492.68 523.24,1498.02 528.99,1503 534.73,1507.65 540.48,1512.1 546.23,1516.25 551.98,1520 557.72,1523.4 563.47,1526.54 569.22,1529.41 574.96,1532 580.71,1534.51 586.46,1536.95 592.2,1538.96 597.95,1540.2 603.7,1540.79 609.44,1541.2 615.19,1541.55 620.94,1542 626.68,1542.75 632.43,1543.67 638.18,1544.47 643.92,1544.8 649.67,1544.35 655.42,1543.34 661.17,1542.26 666.91,1541.6 672.66,1541.38 678.41,1541.25 684.15,1541.12 689.9,1540.9 695.65,1540.24 701.39,1539.15 707.14,1538.06 712.89,1537.4 718.63,1537.18 724.38,1537.04 730.13,1536.91 735.88,1536.7 741.62,1536.25 747.37,1535.57 753.12,1534.83 758.86,1534.2 764.61,1533.71 770.36,1533.27 776.1,1532.84 781.85,1532.4 787.6,1531.84 793.34,1531.22 799.09,1530.71 804.84,1530.5 810.58,1531.56 816.33,1533.94 822.08,1536.45 827.83,1537.9 833.57,1538.3 839.32,1538.56 845.07,1538.78 850.81,1539.1 856.56,1539.64 862.31,1540.35 868.05,1541.06 873.8,1541.6 879.55,1541.92 885.29,1542.15 891.04,1542.41 896.79,1542.8 902.53,1543.72 908.28,1545.27 914.03,1547.13 919.78,1549 925.52,1550.93 931.27,1553.06 937.02,1555.21 942.76,1557.2 948.51,1559.06 954.26,1560.88 960,1562.53 965.75,1563.9 971.5,1565.06 977.24,1566.11 982.99,1566.97 988.74,1567.6 994.48,1568 1000.23,1568.31 1005.98,1568.58 1011.73,1568.9 1017.47,1569.3 1023.22,1569.74 1028.97,1570.19 1034.71,1570.6 1040.46,1571 1046.21,1571.39 1051.95,1571.74 1057.7,1572 1063.45,1572.2 1069.19,1572.39 1074.94,1572.57 1080.69,1572.74 1086.43,1572.89 1092.18,1573.04 1097.93,1573.18 1103.68,1573.31 1109.42,1573.44 1115.17,1573.56 1120.92,1573.67 1126.66,1573.78 1132.41,1573.89 1138.16,1573.99 1143.9,1574.09 1149.65,1574.19 1155.4,1574.28 1161.14,1574.38 1166.89,1574.48 1172.64,1574.58 1178.38,1574.68 1184.13,1574.78 1189.88,1574.89 1195.62,1575 1201.37,1575.11 1207.12,1575.21 1212.87,1575.31 1218.61,1575.41 1224.36,1575.5 1230.11,1575.58 1235.85,1575.67 1241.6,1575.75 1247.35,1575.83 1253.09,1575.91 1258.84,1576 1264.59,1576.08 1270.33,1576.17 1276.08,1576.26 1281.83,1576.35 1287.58,1576.45 1293.32,1576.55 1299.07,1576.66 1304.82,1576.78 1310.56,1576.9 1316.31,1577.04 1322.06,1577.18 1327.8,1577.34 1333.55,1577.5 1339.3,1577.72 1345.04,1578.03 1350.79,1578.39 1356.54,1578.77 1362.28,1579.16 1368.03,1579.51 1373.78,1579.8 1379.53,1580 1385.27,1580.14 1391.02,1580.27 1396.77,1580.39 1402.51,1580.5 1408.26,1580.61 1414.01,1580.71 1419.75,1580.8 1425.5,1580.88 1431.25,1580.96 1436.99,1581.03 1442.74,1581.11 1448.49,1581.17 1454.23,1581.24 1459.98,1581.3 1465.73,1581.37 1471.47,1581.43 1477.22,1581.49 1482.97,1581.55 1488.72,1581.62 1494.46,1581.69 1500.21,1581.76 1505.96,1581.84 1511.7,1581.91 1517.45,1582 1523.2,1582.09 1528.94,1582.18 1534.69,1582.27 1540.44,1582.37 1546.18,1582.46 1551.93,1582.56 1557.68,1582.65 1563.43,1582.75 1569.17,1582.85 1574.92,1582.95 1580.67,1583.05 1586.41,1583.15 1592.16,1583.25 1597.91,1583.35 1603.65,1583.45 1609.4,1583.55 1615.15,1583.65 1620.89,1583.75 1626.64,1583.85 1632.39,1583.94 1638.13,1584.04 1643.88,1584.14 1649.63,1584.23 1655.38,1584.32 1661.12,1584.41 1666.87,1584.5 1672.62,1584.59 1678.36,1584.68 1684.11,1584.76 1689.86,1584.84 1695.6,1584.92 1701.35,1585 1707.1,1585.08 1712.84,1585.15 1718.59,1585.23 1724.34,1585.31 1730.08,1585.39 1735.83,1585.47 1741.58,1585.55 1747.33,1585.63 1753.07,1585.71 1758.82,1585.79 1764.57,1585.86 1770.31,1585.94 1776.06,1586.02 1781.81,1586.1 1787.55,1586.18 1793.3,1586.25 1799.05,1586.33 1804.79,1586.4 1810.54,1586.47 1816.29,1586.55 1822.03,1586.62 1827.78,1586.68 1833.53,1586.75 1839.28,1586.82 1845.02,1586.88 1850.77,1586.94 1856.52,1587 1862.26,1587.05 1868.01,1587.11 1873.76,1587.16 1879.5,1587.21 1885.25,1587.25 1891,1587.3 1896.74,1587.34 1902.49,1587.37 1908.24,1587.4 1913.98,1587.43 1919.73,1587.46 1925.48,1587.48 1931.22,1587.5 1936.97,1587.52 1942.72,1587.53 1948.47,1587.55 1954.21,1587.56 1959.96,1587.58 1965.71,1587.59 1971.45,1587.61 1977.2,1587.62 1982.95,1587.64 1988.69,1587.65 1994.44,1587.67 2000.19,1587.68 2005.93,1587.69 2011.68,1587.71 2017.43,1587.72 2023.18,1587.73 2028.92,1587.74 2034.67,1587.76 2040.42,1587.77 2046.16,1587.78 2051.91,1587.79 2057.66,1587.8 2063.4,1587.81 2069.15,1587.82 2074.9,1587.83 2080.64,1587.84 2086.39,1587.85 2092.14,1587.86 2097.88,1587.87 2103.63,1587.88 2109.38,1587.89 2115.12,1587.9 2120.87,1587.91 2126.62,1587.91 2132.37,1587.92 2138.11,1587.93 2143.86,1587.94 2149.61,1587.94 2155.35,1587.95 2161.1,1587.95 2166.85,1587.96 2172.59,1587.96 2178.34,1587.97 2184.09,1587.97 2189.83,1587.98 2195.58,1587.98 2201.33,1587.99 2207.08,1587.99 2212.82,1587.99 2218.57,1587.99 2224.32,1588 2230.06,1588 2235.81,1588 2241.56,1588 2247.3,1588 2253.05,1588" fill="none" stroke="#808000" stroke-width="8.7" stroke-linejoin="round"/>
<path d="M346.5 1323L310.5 1301.4L310.5 1344.6zM369.49 1257.6L333.49 1236L333.49 1279.2zM392.48 1213.6L356.48 1192L356.48 1235.2zM415.46 1257.6L379.46 1236L379.46 1279.2zM438.45 1322.5L402.45 1300.9L402.45 1344.1zM461.44 1381.7L425.44 1360.1L425.44 1403.3zM484.43 1427.6L448.43 1406L448.43 1449.2zM507.41 1460.8L471.41 1439.2L471.41 1482.4zM530.4 1481.8L494.4 1460.2L494.4 1503.4zM553.39 1503L517.39 1481.4L517.39 1524.6zM576.38 1520L540.38 1498.4L540.38 1541.6zM599.36 1532L563.36 1510.4L563.36 1553.6zM622.35 1540.2L586.35 1518.6L586.35 1561.8zM645.34 1542L609.34 1520.4L609.34 1563.6zM668.32 1544.8L632.32 1523.2L632.32 1566.4zM691.31 1541.6L655.31 1520L655.31 1563.2zM714.3 1540.9L678.3 1519.3L678.3 1562.5zM737.29 1537.4L701.29 1515.8L701.29 1559zM760.27 1536.7L724.27 1515.1L724.27 1558.3zM783.26 1534.2L747.26 1512.6L747.26 1555.8zM806.25 1532.4L770.25 1510.8L770.25 1554zM829.24 1530.5L793.24 1508.9L793.24 1552.1zM852.23 1537.9L816.23 1516.3L816.23 1559.5zM875.21 1539.1L839.21 1517.5L839.21 1560.7zM898.2 1541.6L862.2 1520L862.2 1563.2zM921.19 1542.8L885.19 1521.2L885.19 1564.4zM944.18 1549L908.18 1527.4L908.18 1570.6zM967.16 1557.2L931.16 1535.6L931.16 1578.8zM990.15 1563.9L954.15 1542.3L954.15 1585.5zM1013.14 1567.6L977.14 1546L977.14 1589.2zM1036.12 1568.9L1000.12 1547.3L1000.12 1590.5zM1059.11 1570.6L1023.11 1549L1023.11 1592.2zM1082.1 1572L1046.1 1550.4L1046.1 1593.6zM1105.09 1572.74L1069.09 1551.14L1069.09 1594.34zM1128.08 1573.31L1092.08 1551.71L1092.08 1594.91zM1151.06 1573.78L1115.06 1552.18L1115.06 1595.38zM1174.05 1574.19L1138.05 1552.59L1138.05 1595.79zM1197.04 1574.58L1161.04 1552.98L1161.04 1596.18zM1220.03 1575L1184.03 1553.4L1184.03 1596.6zM1243.01 1575.41L1207.01 1553.81L1207.01 1597.01zM1266 1575.75L1230 1554.15L1230 1597.35zM1288.99 1576.08L1252.99 1554.48L1252.99 1597.68zM1311.98 1576.45L1275.98 1554.85L1275.98 1598.05zM1334.96 1576.9L1298.96 1555.3L1298.96 1598.5zM1357.95 1577.5L1321.95 1555.9L1321.95 1599.1zM1380.94 1578.77L1344.94 1557.17L1344.94 1600.37zM1403.93 1580L1367.93 1558.4L1367.93 1601.6zM1426.91 1580.5L1390.91 1558.9L1390.91 1602.1zM1449.9 1580.88L1413.9 1559.28L1413.9 1602.48zM1472.89 1581.17L1436.89 1559.57L1436.89 1602.77zM1495.88 1581.43L1459.88 1559.83L1459.88 1603.03zM1518.86 1581.69L1482.86 1560.09L1482.86 1603.29zM1541.85 1582L1505.85 1560.4L1505.85 1603.6zM1564.84 1582.37L1528.84 1560.77L1528.84 1603.97zM1587.83 1582.75L1551.83 1561.15L1551.83 1604.35zM1610.81 1583.15L1574.81 1561.55L1574.81 1604.75zM1633.8 1583.55L1597.8 1561.95L1597.8 1605.15zM1656.79 1583.94L1620.79 1562.34L1620.79 1605.54zM1679.78 1584.32L1643.78 1562.72L1643.78 1605.92zM1702.76 1584.68L1666.76 1563.08L1666.76 1606.28zM1725.75 1585L1689.75 1563.4L1689.75 1606.6zM1748.74 1585.31L1712.74 1563.71L1712.74 1606.91zM1771.73 1585.63L1735.73 1564.03L1735.73 1607.23zM1794.71 1585.94L1758.71 1564.34L1758.71 1607.54zM1817.7 1586.25L1781.7 1564.65L1781.7 1607.85zM1840.69 1586.55L1804.69 1564.95L1804.69 1608.15zM1863.68 1586.82L1827.68 1565.22L1827.68 1608.42zM1886.66 1587.05L1850.66 1565.45L1850.66 1608.65zM1909.65 1587.25L1873.65 1565.65L1873.65 1608.85zM1932.64 1587.4L1896.64 1565.8L1896.64 1609zM1955.62 1587.5L1919.62 1565.9L1919.62 1609.1zM1978.61 1587.56L1942.61 1565.96L1942.61 1609.16zM2001.6 1587.62L1965.6 1566.02L1965.6 1609.22zM2024.59 1587.68L1988.59 1566.08L1988.59 1609.28zM2047.58 1587.73L2011.58 1566.13L2011.58 1609.33zM2070.56 1587.78L2034.56 1566.18L2034.56 1609.38zM2093.55 1587.82L2057.55 1566.22L2057.55 1609.42zM2116.54 1587.86L2080.54 1566.26L2080.54 1609.46zM2139.53 1587.9L2103.53 1566.3L2103.53 1609.5zM2162.51 1587.93L2126.51 1566.33L2126.51 1609.53zM2185.5 1587.95L2149.5 1566.35L2149.5 1609.55zM2208.49 1587.97L2172.49 1566.37L2172.49 1609.57zM2231.48 1587.99L2195.48 1566.39L2195.48 1609.59zM2254.46 1588L2218.46 1566.4L2218.46 1609.6zM2277.45 1588L2241.45 1566.4L2241.45 1609.6z" fill="#808000" stroke="#808000" stroke-width="4.2" stroke-linejoin="round"/>
</g>
<g id="s-navy">
<polyline points="299.11,1475 304.86,1462.58 310.61,1450.88 316.35,1440 322.1,1430 327.85,1420.76 333.59,1412.13 339.34,1404.18 345.09,1397 350.83,1389.59 356.58,1382.11 362.33,1376.32 368.08,1374 373.82,1376.2 379.57,1381.7 385.32,1388.85 391.06,1396 396.81,1403.42 402.56,1411.94 408.3,1420.74 414.05,1429 419.8,1436.64 425.54,1444.08 431.29,1451.22 437.04,1458 442.78,1464.54 448.53,1470.88 454.28,1476.78 460.03,1482 465.77,1486.59 471.52,1490.77 477.27,1494.57 483.01,1498 488.76,1501.04 494.51,1503.75 500.25,1506.35 506,1509 511.75,1511.86 517.49,1514.81 523.24,1517.59 528.99,1520 534.73,1521.99 540.48,1523.76 546.23,1525.4 551.98,1527 557.72,1528.58 563.47,1530.09 569.22,1531.56 574.96,1533 580.71,1534.56 586.46,1536.17 592.2,1537.58 597.95,1538.5 603.7,1539.01 609.44,1539.39 615.19,1539.71 620.94,1540 626.68,1540.32 632.43,1540.65 638.18,1540.9 643.92,1541 649.67,1540.84 655.42,1540.5 661.17,1540.16 666.91,1540 672.66,1540 678.41,1540 684.15,1540 689.9,1540 695.65,1539.49 701.39,1538.33 707.14,1537.05 712.89,1536.2 718.63,1535.76 724.38,1535.37 730.13,1535.1 735.88,1535 741.62,1535.08 747.37,1535.25 753.12,1535.42 758.86,1535.5 764.61,1535.22 770.36,1534.6 776.1,1533.98 781.85,1533.7 787.6,1533.7 793.34,1533.7 799.09,1533.7 804.84,1533.7 810.58,1533.94 816.33,1534.54 822.08,1535.3 827.83,1536 833.57,1536.66 839.32,1537.38 845.07,1538.05 850.81,1538.6 856.56,1538.97 862.31,1539.24 868.05,1539.55 873.8,1540 879.55,1541.12 885.29,1542.91 891.04,1544.75 896.79,1546 902.53,1546.65 908.28,1547.14 914.03,1547.56 919.78,1548 925.52,1548.48 931.27,1548.96 937.02,1549.41 942.76,1549.8 948.51,1550.13 954.26,1550.42 960,1550.7 965.75,1551 971.5,1551.32 977.24,1551.65 982.99,1551.98 988.74,1552.3 994.48,1552.63 1000.23,1552.97 1005.98,1553.27 1011.73,1553.5 1017.47,1553.64 1023.22,1553.74 1028.97,1553.85 1034.71,1554 1040.46,1554.33 1046.21,1554.81 1051.95,1555.27 1057.7,1555.5 1063.45,1555.56 1069.19,1555.61 1074.94,1555.67 1080.69,1555.71 1086.43,1555.76 1092.18,1555.79 1097.93,1555.83 1103.68,1555.86 1109.42,1555.89 1115.17,1555.92 1120.92,1555.95 1126.66,1555.97 1132.41,1555.99 1138.16,1556.01 1143.9,1556.03 1149.65,1556.04 1155.4,1556.06 1161.14,1556.07 1166.89,1556.08 1172.64,1556.09 1178.38,1556.1 1184.13,1556.11 1189.88,1556.13 1195.62,1556.14 1201.37,1556.15 1207.12,1556.16 1212.87,1556.17 1218.61,1556.19 1224.36,1556.2 1230.11,1556.22 1235.85,1556.23 1241.6,1556.25 1247.35,1556.28 1253.09,1556.3 1258.84,1556.33 1264.59,1556.35 1270.33,1556.39 1276.08,1556.42 1281.83,1556.46 1287.58,1556.5 1293.32,1556.55 1299.07,1556.61 1304.82,1556.69 1310.56,1556.77 1316.31,1556.87 1322.06,1556.97 1327.8,1557.07 1333.55,1557.18 1339.3,1557.3 1345.04,1557.41 1350.79,1557.52 1356.54,1557.63 1362.28,1557.73 1368.03,1557.83 1373.78,1557.92 1379.53,1558 1385.27,1558.08 1391.02,1558.15 1396.77,1558.22 1402.51,1558.3 1408.26,1558.37 1414.01,1558.44 1419.75,1558.51 1425.5,1558.57 1431.25,1558.64 1436.99,1558.71 1442.74,1558.77 1448.49,1558.84 1454.23,1558.9 1459.98,1558.96 1465.73,1559.02 1471.47,1559.08 1477.22,1559.13 1482.97,1559.19 1488.72,1559.25 1494.46,1559.3 1500.21,1559.35 1505.96,1559.4 1511.7,1559.45 1517.45,1559.5 1523.2,1559.55 1528.94,1559.6 1534.69,1559.64 1540.44,1559.69 1546.18,1559.74 1551.93,1559.79 1557.68,1559.83 1563.43,1559.88 1569.17,1559.93 1574.92,1559.98 1580.67,1560.02 1586.41,1560.07 1592.16,1560.11 1597.91,1560.15 1603.65,1560.2 1609.4,1560.24 1615.15,1560.28 1620.89,1560.32 1626.64,1560.36 1632.39,1560.39 1638.13,1560.43 1643.88,1560.46 1649.63,1560.5 1655.38,1560.53 1661.12,1560.55 1666.87,1560.58 1672.62,1560.61 1678.36,1560.63 1684.11,1560.65 1689.86,1560.67 1695.6,1560.69 1701.35,1560.7 1707.1,1560.71 1712.84,1560.73 1718.59,1560.74 1724.34,1560.75 1730.08,1560.76 1735.83,1560.77 1741.58,1560.79 1747.33,1560.8 1753.07,1560.81 1758.82,1560.82 1764.57,1560.83 1770.31,1560.84 1776.06,1560.85 1781.81,1560.86 1787.55,1560.87 1793.3,1560.88 1799.05,1560.89 1804.79,1560.9 1810.54,1560.91 1816.29,1560.91 1822.03,1560.92 1827.78,1560.93 1833.53,1560.94 1839.28,1560.94 1845.02,1560.95 1850.77,1560.96 1856.52,1560.96 1862.26,1560.97 1868.01,1560.97 1873.76,1560.98 1879.5,1560.98 1885.25,1560.99 1891,1560.99 1896.74,1560.99 1902.49,1560.99 1908.24,1561 1913.98,1561 1919.73,1561 1925.48,1561 1931.22,1561 1936.97,1561 1942.72,1561 1948.47,1561 1954.21,1561 1959.96,1561 1965.71,1561 1971.45,1561 1977.2,1561 1982.95,1561 1988.69,1561 1994.44,1561 2000.19,1561 2005.93,1561 2011.68,1561 2017.43,1561 2023.18,1561 2028.92,1561 2034.67,1561 2040.42,1561 2046.16,1561 2051.91,1561 2057.66,1561 2063.4,1561 2069.15,1561 2074.9,1561 2080.64,1561 2086.39,1561 2092.14,1561 2097.88,1561 2103.63,1561 2109.38,1561 2115.12,1561 2120.87,1561 2126.62,1561 2132.37,1561 2138.11,1561 2143.86,1561 2149.61,1561 2155.35,1561 2161.1,1561 2166.85,1561 2172.59,1561 2178.34,1561 2184.09,1561 2189.83,1561 2195.58,1561 2201.33,1561 2207.08,1561 2212.82,1561 2218.57,1561 2224.32,1561 2230.06,1561 2235.81,1561 2241.56,1561 2247.3,1561 2253.05,1561" fill="none" stroke="#0000A0" stroke-width="8.7" stroke-linejoin="round"/>
<path d="M322.1 1408.1L344 1430L322.1 1451.9L300.2 1430zM345.09 1375.1L366.99 1397L345.09 1418.9L323.19 1397zM368.08 1352.1L389.98 1374L368.08 1395.9L346.18 1374zM391.06 1374.1L412.96 1396L391.06 1417.9L369.16 1396zM414.05 1407.1L435.95 1429L414.05 1450.9L392.15 1429zM437.04 1436.1L458.94 1458L437.04 1479.9L415.14 1458zM460.03 1460.1L481.93 1482L460.03 1503.9L438.13 1482zM483.01 1476.1L504.91 1498L483.01 1519.9L461.11 1498zM506 1487.1L527.9 1509L506 1530.9L484.1 1509zM528.99 1498.1L550.89 1520L528.99 1541.9L507.09 1520zM551.98 1505.1L573.88 1527L551.98 1548.9L530.08 1527zM574.96 1511.1L596.86 1533L574.96 1554.9L553.06 1533zM597.95 1516.6L619.85 1538.5L597.95 1560.4L576.05 1538.5zM620.94 1518.1L642.84 1540L620.94 1561.9L599.04 1540zM643.92 1519.1L665.82 1541L643.92 1562.9L622.02 1541zM666.91 1518.1L688.81 1540L666.91 1561.9L645.01 1540zM689.9 1518.1L711.8 1540L689.9 1561.9L668 1540zM712.89 1514.3L734.79 1536.2L712.89 1558.1L690.99 1536.2zM735.88 1513.1L757.77 1535L735.88 1556.9L713.98 1535zM758.86 1513.6L780.76 1535.5L758.86 1557.4L736.96 1535.5zM781.85 1511.8L803.75 1533.7L781.85 1555.6L759.95 1533.7zM804.84 1511.8L826.74 1533.7L804.84 1555.6L782.94 1533.7zM827.83 1514.1L849.73 1536L827.83 1557.9L805.93 1536zM850.81 1516.7L872.71 1538.6L850.81 1560.5L828.91 1538.6zM873.8 1518.1L895.7 1540L873.8 1561.9L851.9 1540zM896.79 1524.1L918.69 1546L896.79 1567.9L874.89 1546zM919.78 1526.1L941.68 1548L919.78 1569.9L897.88 1548zM942.76 1527.9L964.66 1549.8L942.76 1571.7L920.86 1549.8zM965.75 1529.1L987.65 1551L965.75 1572.9L943.85 1551zM988.74 1530.4L1010.64 1552.3L988.74 1574.2L966.84 1552.3zM1011.73 1531.6L1033.62 1553.5L1011.73 1575.4L989.83 1553.5zM1034.71 1532.1L1056.61 1554L1034.71 1575.9L1012.81 1554zM1057.7 1533.6L1079.6 1555.5L1057.7 1577.4L1035.8 1555.5zM1080.69 1533.81L1102.59 1555.71L1080.69 1577.61L1058.79 1555.71zM1103.68 1533.96L1125.58 1555.86L1103.68 1577.76L1081.78 1555.86zM1126.66 1534.07L1148.56 1555.97L1126.66 1577.87L1104.76 1555.97zM1149.65 1534.14L1171.55 1556.04L1149.65 1577.94L1127.75 1556.04zM1172.64 1534.19L1194.54 1556.09L1172.64 1577.99L1150.74 1556.09zM1195.62 1534.24L1217.53 1556.14L1195.62 1578.04L1173.72 1556.14zM1218.61 1534.29L1240.51 1556.19L1218.61 1578.09L1196.71 1556.19zM1241.6 1534.35L1263.5 1556.25L1241.6 1578.15L1219.7 1556.25zM1264.59 1534.45L1286.49 1556.35L1264.59 1578.25L1242.69 1556.35zM1287.58 1534.6L1309.48 1556.5L1287.58 1578.4L1265.67 1556.5zM1310.56 1534.87L1332.46 1556.77L1310.56 1578.67L1288.66 1556.77zM1333.55 1535.28L1355.45 1557.18L1333.55 1579.08L1311.65 1557.18zM1356.54 1535.73L1378.44 1557.63L1356.54 1579.53L1334.64 1557.63zM1379.53 1536.1L1401.43 1558L1379.53 1579.9L1357.62 1558zM1402.51 1536.4L1424.41 1558.3L1402.51 1580.2L1380.61 1558.3zM1425.5 1536.67L1447.4 1558.57L1425.5 1580.47L1403.6 1558.57zM1448.49 1536.94L1470.39 1558.84L1448.49 1580.74L1426.59 1558.84zM1471.47 1537.18L1493.38 1559.08L1471.47 1580.98L1449.57 1559.08zM1494.46 1537.4L1516.36 1559.3L1494.46 1581.2L1472.56 1559.3zM1517.45 1537.6L1539.35 1559.5L1517.45 1581.4L1495.55 1559.5zM1540.44 1537.79L1562.34 1559.69L1540.44 1581.59L1518.54 1559.69zM1563.43 1537.98L1585.33 1559.88L1563.43 1581.78L1541.53 1559.88zM1586.41 1538.17L1608.31 1560.07L1586.41 1581.97L1564.51 1560.07zM1609.4 1538.34L1631.3 1560.24L1609.4 1582.14L1587.5 1560.24zM1632.39 1538.49L1654.29 1560.39L1632.39 1582.29L1610.49 1560.39zM1655.38 1538.63L1677.28 1560.53L1655.38 1582.43L1633.47 1560.53zM1678.36 1538.73L1700.26 1560.63L1678.36 1582.53L1656.46 1560.63zM1701.35 1538.8L1723.25 1560.7L1701.35 1582.6L1679.45 1560.7zM1724.34 1538.85L1746.24 1560.75L1724.34 1582.65L1702.44 1560.75zM1747.33 1538.9L1769.23 1560.8L1747.33 1582.7L1725.43 1560.8zM1770.31 1538.94L1792.21 1560.84L1770.31 1582.74L1748.41 1560.84zM1793.3 1538.98L1815.2 1560.88L1793.3 1582.78L1771.4 1560.88zM1816.29 1539.01L1838.19 1560.91L1816.29 1582.81L1794.39 1560.91zM1839.28 1539.04L1861.18 1560.94L1839.28 1582.84L1817.38 1560.94zM1862.26 1539.07L1884.16 1560.97L1862.26 1582.87L1840.36 1560.97zM1885.25 1539.09L1907.15 1560.99L1885.25 1582.89L1863.35 1560.99zM1908.24 1539.1L1930.14 1561L1908.24 1582.9L1886.34 1561zM1931.22 1539.1L1953.12 1561L1931.22 1582.9L1909.32 1561zM1954.21 1539.1L1976.11 1561L1954.21 1582.9L1932.31 1561zM1977.2 1539.1L1999.1 1561L1977.2 1582.9L1955.3 1561zM2000.19 1539.1L2022.09 1561L2000.19 1582.9L1978.29 1561zM2023.18 1539.1L2045.08 1561L2023.18 1582.9L2001.28 1561zM2046.16 1539.1L2068.06 1561L2046.16 1582.9L2024.26 1561zM2069.15 1539.1L2091.05 1561L2069.15 1582.9L2047.25 1561zM2092.14 1539.1L2114.04 1561L2092.14 1582.9L2070.24 1561zM2115.12 1539.1L2137.03 1561L2115.12 1582.9L2093.22 1561zM2138.11 1539.1L2160.01 1561L2138.11 1582.9L2116.21 1561zM2161.1 1539.1L2183 1561L2161.1 1582.9L2139.2 1561zM2184.09 1539.1L2205.99 1561L2184.09 1582.9L2162.19 1561zM2207.08 1539.1L2228.98 1561L2207.08 1582.9L2185.18 1561zM2230.06 1539.1L2251.96 1561L2230.06 1582.9L2208.16 1561zM2253.05 1539.1L2274.95 1561L2253.05 1582.9L2231.15 1561z" fill="#0000A0" stroke="#0000A0" stroke-width="4.2" stroke-linejoin="round"/>
</g>
</g>
<g id="ylabels">
<text transform="translate(124.88 1553.3) scale(0.9083 1)" font-size="76.3" text-anchor="start">0.00</text>
<text transform="translate(124.96 1376.05) scale(0.8820 1)" font-size="76.3" text-anchor="start">0.01</text>
<text transform="translate(124.88 1198.8) scale(0.9083 1)" font-size="76.3" text-anchor="start">0.02</text>
<text transform="translate(124.89 1021.55) scale(0.9059 1)" font-size="76.3" text-anchor="start">0.03</text>
<text transform="translate(124.93 844.3) scale(0.8916 1)" font-size="76.3" text-anchor="start">0.04</text>
<text transform="translate(124.9 667.05) scale(0.9022 1)" font-size="76.3" text-anchor="start">0.05</text>
<text transform="translate(124.89 489.8) scale(0.9059 1)" font-size="76.3" text-anchor="start">0.06</text>
<text transform="translate(124.87 312.55) scale(0.9095 1)" font-size="76.3" text-anchor="start">0.07</text>
<text transform="translate(124.89 135.3) scale(0.9035 1)" font-size="76.3" text-anchor="start">0.08</text>
</g>
<g id="xlabels">
<text transform="translate(356.68 1708.6) scale(0.9122 1)" font-size="76.3" text-anchor="start">300</text>
<text transform="translate(816.69 1708.6) scale(0.9122 1)" font-size="76.3" text-anchor="start">400</text>
<text transform="translate(1275.92 1708.6) scale(0.9122 1)" font-size="76.3" text-anchor="start">500</text>
<text transform="translate(1735.41 1708.6) scale(0.9122 1)" font-size="76.3" text-anchor="start">600</text>
<text transform="translate(2194.98 1708.6) scale(0.9122 1)" font-size="76.3" text-anchor="start">700</text>
</g>
<text transform="translate(74.2 1076) rotate(-90)" font-size="73">Absorbance</text>
<g id="xtitle">
<text class="sym" transform="translate(1175.83 1836.8) scale(0.7751 0.7348)" font-size="100">λ</text>
<text class="symr" stroke="#000" stroke-width="1.6" transform="translate(1230.41 1833.74) scale(0.7098 0.6380)" font-size="100">(</text>
<text transform="translate(1254.39 1835) scale(0.9306 1)" font-size="74.5" text-anchor="start">nm</text>
<text transform="translate(1359.94 1834.77) scale(0.6357 0.7265)" font-size="100">)</text>
</g>
<g id="annot">
<text transform="translate(928.21 695.8) scale(0.9265 1)" font-size="74" text-anchor="start">divided by 10</text>
<line x1="1051.3" y1="720.5" x2="969.09" y2="804.77" stroke="#000" stroke-width="8" stroke-linecap="round"/>
<path d="M943.6 830.9L965.08 795.28L978.68 808.54z" fill="#000" stroke="#000" stroke-width="6" stroke-linejoin="round"/>
<line x1="1064.6" y1="723.3" x2="1152.16" y2="801.4" stroke="#000" stroke-width="8" stroke-linecap="round"/>
<path d="M1179.4 825.7L1142.85 805.83L1155.5 791.65z" fill="#000" stroke="#000" stroke-width="6" stroke-linejoin="round"/>
</g>
<g id="legend">
<line x1="1391" y1="81" x2="1554" y2="81" stroke="#000000" stroke-width="8.7" stroke-linecap="round"/>
<path d="M1454 63h36v36h-36z" fill="#000000" shape-rendering="crispEdges"/>
<text transform="translate(1573.3 105.2) scale(0.9086 1)" font-size="76" text-anchor="start">PFO 15 mg/mL</text>
<line x1="1391" y1="170" x2="1554" y2="170" stroke="#FF8000" stroke-width="8.7" stroke-linecap="round"/>
<path d="M1472 149.6L1476.58 163.7L1491.4 163.7L1479.41 172.41L1483.99 186.5L1472 177.79L1460.01 186.5L1464.59 172.41L1452.6 163.7L1467.42 163.7z" fill="#FF8000" stroke="#FF8000" stroke-width="4.2" stroke-linejoin="round" shape-rendering="crispEdges"/>
<text transform="translate(1573.3 193.97) scale(0.9086 1)" font-size="76" text-anchor="start">MEH-PPV 0.5 mg/mL</text>
<line x1="1391" y1="258.5" x2="1554" y2="258.5" stroke="#FF0000" stroke-width="8.7" stroke-linecap="round"/>
<path d="M1452.7 258.5a19.3 19.3 0 1 0 38.6 0a19.3 19.3 0 1 0 -38.6 0z" fill="#FF0000" shape-rendering="crispEdges"/>
<text transform="translate(1573.3 282.74) scale(0.9086 1)" font-size="76" text-anchor="start">PQDs(3.80 mg/mL)</text>
<line x1="1391" y1="347.5" x2="1554" y2="347.5" stroke="#0000FF" stroke-width="8.7" stroke-linecap="round"/>
<path d="M1472 323.1L1493.6 359.1L1450.4 359.1z" fill="#0000FF" stroke="#0000FF" stroke-width="4.2" stroke-linejoin="round" shape-rendering="crispEdges"/>
<text transform="translate(1573.3 371.51) scale(0.9086 1)" font-size="76" text-anchor="start">PQDs(2.67 mg/mL)</text>
<line x1="1391" y1="436" x2="1554" y2="436" stroke="#008080" stroke-width="8.7" stroke-linecap="round"/>
<path d="M1472 460.4L1493.6 424.4L1450.4 424.4z" fill="#008080" stroke="#008080" stroke-width="4.2" stroke-linejoin="round" shape-rendering="crispEdges"/>
<text transform="translate(1573.3 460.28) scale(0.9086 1)" font-size="76" text-anchor="start">PQDs(1.68 mg/mL)</text>
<line x1="1391" y1="525" x2="1554" y2="525" stroke="#FF00FF" stroke-width="8.7" stroke-linecap="round"/>
<path d="M1447.6 525L1483.6 503.4L1483.6 546.6z" fill="#FF00FF" stroke="#FF00FF" stroke-width="4.2" stroke-linejoin="round" shape-rendering="crispEdges"/>
<text transform="translate(1573.3 549.05) scale(0.9086 1)" font-size="76" text-anchor="start">PQDs(0.80 mg/mL)</text>
<line x1="1391" y1="613.6" x2="1554" y2="613.6" stroke="#808000" stroke-width="8.7" stroke-linecap="round"/>
<path d="M1496.4 613.6L1460.4 592L1460.4 635.2z" fill="#808000" stroke="#808000" stroke-width="4.2" stroke-linejoin="round" shape-rendering="crispEdges"/>
<text transform="translate(1573.3 637.82) scale(0.9086 1)" font-size="76" text-anchor="start">PQDs(0.15 mg/mL)</text>
<line x1="1391" y1="702.4" x2="1554" y2="702.4" stroke="#0000A0" stroke-width="8.7" stroke-linecap="round"/>
<path d="M1472 680.5L1493.9 702.4L1472 724.3L1450.1 702.4z" fill="#0000A0" stroke="#0000A0" stroke-width="4.2" stroke-linejoin="round" shape-rendering="crispEdges"/>
<text transform="translate(1573.3 726.59) scale(0.9086 1)" font-size="76" text-anchor="start">PQDs(0.08 mg/mL)</text>
</g>
</svg></body></html>
